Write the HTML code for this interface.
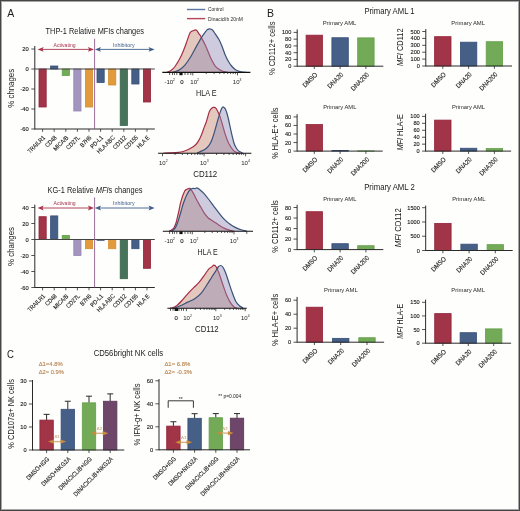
<!DOCTYPE html>
<html><head><meta charset="utf-8"><style>
html,body{margin:0;padding:0;background:#fff;width:520px;height:511px;overflow:hidden;}
svg{display:block;font-family:"Liberation Sans", sans-serif;will-change:transform;}
</style></head><body>
<svg width="520" height="511" viewBox="0 0 520 511" font-family='"Liberation Sans", sans-serif'><rect x="0" y="0" width="520" height="511" fill="#fefefd"/>
<text x="7.20" y="16.80" font-size="10.5" fill="#1a1a1a" text-anchor="start" >A</text>
<text x="267.00" y="16.80" font-size="10.5" fill="#1a1a1a" text-anchor="start" >B</text>
<text x="6.90" y="357.90" font-size="11.0" fill="#1a1a1a" text-anchor="start" textLength="6.9" lengthAdjust="spacingAndGlyphs" >C</text>
<text x="94.80" y="34.40" font-size="8.6" fill="#1a1a1a" text-anchor="middle" textLength="98.4" lengthAdjust="spacingAndGlyphs" >THP-1 Relative MFIs changes</text>
<text x="14.20" y="88.30" font-size="8.4" fill="#1a1a1a" text-anchor="middle" textLength="38.8" lengthAdjust="spacingAndGlyphs" transform="rotate(-90 14.20 88.30)" >% chnages</text>
<rect x="39.00" y="69.00" width="7.20" height="38.00" fill="#a23447" stroke="#93233a" stroke-width="0.8"/>
<rect x="50.60" y="66.00" width="7.20" height="3.00" fill="#465f87" stroke="#364f78" stroke-width="0.8"/>
<rect x="62.20" y="69.00" width="7.20" height="6.50" fill="#72aa57" stroke="#63a048" stroke-width="0.8"/>
<rect x="73.80" y="69.00" width="7.20" height="42.00" fill="#a295bf" stroke="#9487b3" stroke-width="0.8"/>
<rect x="85.40" y="69.00" width="7.20" height="38.00" fill="#e19b3c" stroke="#d48d2e" stroke-width="0.8"/>
<rect x="97.00" y="69.00" width="7.20" height="13.50" fill="#465f87" stroke="#364f78" stroke-width="0.8"/>
<rect x="108.60" y="69.00" width="7.20" height="16.00" fill="#e19b3c" stroke="#d48d2e" stroke-width="0.8"/>
<rect x="120.20" y="69.00" width="7.20" height="56.50" fill="#46735a" stroke="#38654c" stroke-width="0.8"/>
<rect x="131.80" y="69.00" width="7.20" height="15.00" fill="#465f87" stroke="#364f78" stroke-width="0.8"/>
<rect x="143.40" y="69.00" width="7.20" height="33.00" fill="#a23447" stroke="#93233a" stroke-width="0.8"/>
<line x1="34.80" y1="46.00" x2="34.80" y2="129.50" stroke="#2a2a2a" stroke-width="1" />
<line x1="34.80" y1="129.00" x2="154.80" y2="129.00" stroke="#2a2a2a" stroke-width="1" />
<line x1="34.80" y1="69.00" x2="154.80" y2="69.00" stroke="#444" stroke-width="1" />
<line x1="31.30" y1="49.00" x2="34.80" y2="49.00" stroke="#2a2a2a" stroke-width="0.8" />
<text x="28.80" y="51.00" font-size="5.8" fill="#1a1a1a" text-anchor="end" stroke="#1a1a1a" stroke-width="0.12" >20</text>
<line x1="31.30" y1="69.00" x2="34.80" y2="69.00" stroke="#2a2a2a" stroke-width="0.8" />
<text x="28.80" y="71.00" font-size="5.8" fill="#1a1a1a" text-anchor="end" stroke="#1a1a1a" stroke-width="0.12" >0</text>
<line x1="31.30" y1="89.00" x2="34.80" y2="89.00" stroke="#2a2a2a" stroke-width="0.8" />
<text x="28.80" y="91.00" font-size="5.8" fill="#1a1a1a" text-anchor="end" stroke="#1a1a1a" stroke-width="0.12" >-20</text>
<line x1="31.30" y1="109.00" x2="34.80" y2="109.00" stroke="#2a2a2a" stroke-width="0.8" />
<text x="28.80" y="111.00" font-size="5.8" fill="#1a1a1a" text-anchor="end" stroke="#1a1a1a" stroke-width="0.12" >-40</text>
<line x1="31.30" y1="129.00" x2="34.80" y2="129.00" stroke="#2a2a2a" stroke-width="0.8" />
<text x="28.80" y="131.00" font-size="5.8" fill="#1a1a1a" text-anchor="end" stroke="#1a1a1a" stroke-width="0.12" >-60</text>
<line x1="42.60" y1="129.00" x2="42.60" y2="131.80" stroke="#2a2a2a" stroke-width="0.8" />
<text x="45.60" y="138.10" font-size="6.21" fill="#1a1a1a" text-anchor="end" textLength="22.21" lengthAdjust="spacingAndGlyphs" transform="rotate(-45 45.60 138.10)" stroke="#1a1a1a" stroke-width="0.12" >TRAILR1</text>
<line x1="54.20" y1="129.00" x2="54.20" y2="131.80" stroke="#2a2a2a" stroke-width="0.8" />
<text x="57.20" y="138.10" font-size="6.21" fill="#1a1a1a" text-anchor="end" textLength="13.81" lengthAdjust="spacingAndGlyphs" transform="rotate(-45 57.20 138.10)" stroke="#1a1a1a" stroke-width="0.12" >CD48</text>
<line x1="65.80" y1="129.00" x2="65.80" y2="131.80" stroke="#2a2a2a" stroke-width="0.8" />
<text x="68.80" y="138.10" font-size="6.21" fill="#1a1a1a" text-anchor="end" textLength="18.6" lengthAdjust="spacingAndGlyphs" transform="rotate(-45 68.80 138.10)" stroke="#1a1a1a" stroke-width="0.12" >MICA/B</text>
<line x1="77.40" y1="129.00" x2="77.40" y2="131.80" stroke="#2a2a2a" stroke-width="0.8" />
<text x="80.40" y="138.10" font-size="6.21" fill="#1a1a1a" text-anchor="end" textLength="16.81" lengthAdjust="spacingAndGlyphs" transform="rotate(-45 80.40 138.10)" stroke="#1a1a1a" stroke-width="0.12" >CD27L</text>
<line x1="89.00" y1="129.00" x2="89.00" y2="131.80" stroke="#2a2a2a" stroke-width="0.8" />
<text x="92.00" y="138.10" font-size="6.21" fill="#1a1a1a" text-anchor="end" textLength="13.51" lengthAdjust="spacingAndGlyphs" transform="rotate(-45 92.00 138.10)" stroke="#1a1a1a" stroke-width="0.12" >B7H6</text>
<line x1="100.60" y1="129.00" x2="100.60" y2="131.80" stroke="#2a2a2a" stroke-width="0.8" />
<text x="103.60" y="138.10" font-size="6.21" fill="#1a1a1a" text-anchor="end" textLength="15.31" lengthAdjust="spacingAndGlyphs" transform="rotate(-45 103.60 138.10)" stroke="#1a1a1a" stroke-width="0.12" >PD-L1</text>
<line x1="112.20" y1="129.00" x2="112.20" y2="131.80" stroke="#2a2a2a" stroke-width="0.8" />
<text x="115.20" y="138.10" font-size="6.21" fill="#1a1a1a" text-anchor="end" textLength="22.51" lengthAdjust="spacingAndGlyphs" transform="rotate(-45 115.20 138.10)" stroke="#1a1a1a" stroke-width="0.12" >HLA ABC</text>
<line x1="123.80" y1="129.00" x2="123.80" y2="131.80" stroke="#2a2a2a" stroke-width="0.8" />
<text x="126.80" y="138.10" font-size="6.21" fill="#1a1a1a" text-anchor="end" textLength="16.41" lengthAdjust="spacingAndGlyphs" transform="rotate(-45 126.80 138.10)" stroke="#1a1a1a" stroke-width="0.12" >CD112</text>
<line x1="135.40" y1="129.00" x2="135.40" y2="131.80" stroke="#2a2a2a" stroke-width="0.8" />
<text x="138.40" y="138.10" font-size="6.21" fill="#1a1a1a" text-anchor="end" textLength="16.81" lengthAdjust="spacingAndGlyphs" transform="rotate(-45 138.40 138.10)" stroke="#1a1a1a" stroke-width="0.12" >CD155</text>
<line x1="147.00" y1="129.00" x2="147.00" y2="131.80" stroke="#2a2a2a" stroke-width="0.8" />
<text x="150.00" y="138.10" font-size="6.21" fill="#1a1a1a" text-anchor="end" textLength="15.31" lengthAdjust="spacingAndGlyphs" transform="rotate(-45 150.00 138.10)" stroke="#1a1a1a" stroke-width="0.12" >HLA E</text>
<line x1="94.60" y1="38.80" x2="94.60" y2="129.00" stroke="#8d5b8d" stroke-width="0.9" />
<line x1="40.50" y1="49.40" x2="91.50" y2="49.40" stroke="#a9344a" stroke-width="0.9" />
<path d="M37.6,49.4 l6.1,-2.45 l-1.3,2.45 l1.3,2.45z" fill="#a9344a"/>
<path d="M94.0,49.4 l-6.1,-2.45 l1.3,2.45 l-1.3,2.45z" fill="#a9344a"/>
<line x1="97.50" y1="49.40" x2="152.50" y2="49.40" stroke="#3f5e8c" stroke-width="0.9" />
<path d="M94.9,49.4 l6.1,-2.45 l-1.3,2.45 l1.3,2.45z" fill="#3f5e8c"/>
<path d="M154.6,49.4 l-6.1,-2.45 l1.3,2.45 l-1.3,2.45z" fill="#3f5e8c"/>
<text x="64.60" y="46.80" font-size="5.0" fill="#a9344a" text-anchor="middle" textLength="22" lengthAdjust="spacingAndGlyphs" >Activating</text>
<text x="123.80" y="46.80" font-size="5.0" fill="#3f5e8c" text-anchor="middle" textLength="21.5" lengthAdjust="spacingAndGlyphs" >Inhibitory</text>
<text x="95.00" y="192.60" font-size="8.6" fill="#1a1a1a" text-anchor="middle" textLength="95.0" lengthAdjust="spacingAndGlyphs" >KG-1 Relative <tspan font-style="italic">MFI</tspan>s changes</text>
<text x="14.20" y="246.50" font-size="8.4" fill="#1a1a1a" text-anchor="middle" textLength="38.8" lengthAdjust="spacingAndGlyphs" transform="rotate(-90 14.20 246.50)" >% changes</text>
<rect x="39.00" y="216.70" width="7.20" height="22.80" fill="#a23447" stroke="#93233a" stroke-width="0.8"/>
<rect x="50.60" y="215.90" width="7.20" height="23.60" fill="#465f87" stroke="#364f78" stroke-width="0.8"/>
<rect x="62.20" y="235.50" width="7.20" height="4.00" fill="#72aa57" stroke="#63a048" stroke-width="0.8"/>
<rect x="73.80" y="239.50" width="7.20" height="16.00" fill="#a295bf" stroke="#9487b3" stroke-width="0.8"/>
<rect x="85.40" y="239.50" width="7.20" height="9.20" fill="#e19b3c" stroke="#d48d2e" stroke-width="0.8"/>
<rect x="97.00" y="239.50" width="7.20" height="0.80" fill="#465f87" stroke="#364f78" stroke-width="0.8"/>
<rect x="108.60" y="239.50" width="7.20" height="9.20" fill="#e19b3c" stroke="#d48d2e" stroke-width="0.8"/>
<rect x="120.20" y="239.50" width="7.20" height="39.20" fill="#46735a" stroke="#38654c" stroke-width="0.8"/>
<rect x="131.80" y="239.50" width="7.20" height="9.20" fill="#465f87" stroke="#364f78" stroke-width="0.8"/>
<rect x="143.40" y="239.50" width="7.20" height="28.80" fill="#a23447" stroke="#93233a" stroke-width="0.8"/>
<line x1="34.80" y1="204.60" x2="34.80" y2="288.00" stroke="#2a2a2a" stroke-width="1" />
<line x1="34.80" y1="287.50" x2="154.80" y2="287.50" stroke="#2a2a2a" stroke-width="1" />
<line x1="34.80" y1="239.50" x2="154.80" y2="239.50" stroke="#444" stroke-width="1" />
<line x1="31.30" y1="207.50" x2="34.80" y2="207.50" stroke="#2a2a2a" stroke-width="0.8" />
<text x="28.80" y="209.50" font-size="5.8" fill="#1a1a1a" text-anchor="end" stroke="#1a1a1a" stroke-width="0.12" >40</text>
<line x1="31.30" y1="223.50" x2="34.80" y2="223.50" stroke="#2a2a2a" stroke-width="0.8" />
<text x="28.80" y="225.50" font-size="5.8" fill="#1a1a1a" text-anchor="end" stroke="#1a1a1a" stroke-width="0.12" >20</text>
<line x1="31.30" y1="239.50" x2="34.80" y2="239.50" stroke="#2a2a2a" stroke-width="0.8" />
<text x="28.80" y="241.50" font-size="5.8" fill="#1a1a1a" text-anchor="end" stroke="#1a1a1a" stroke-width="0.12" >0</text>
<line x1="31.30" y1="255.50" x2="34.80" y2="255.50" stroke="#2a2a2a" stroke-width="0.8" />
<text x="28.80" y="257.50" font-size="5.8" fill="#1a1a1a" text-anchor="end" stroke="#1a1a1a" stroke-width="0.12" >-20</text>
<line x1="31.30" y1="271.50" x2="34.80" y2="271.50" stroke="#2a2a2a" stroke-width="0.8" />
<text x="28.80" y="273.50" font-size="5.8" fill="#1a1a1a" text-anchor="end" stroke="#1a1a1a" stroke-width="0.12" >-40</text>
<line x1="31.30" y1="287.50" x2="34.80" y2="287.50" stroke="#2a2a2a" stroke-width="0.8" />
<text x="28.80" y="289.50" font-size="5.8" fill="#1a1a1a" text-anchor="end" stroke="#1a1a1a" stroke-width="0.12" >-60</text>
<line x1="42.60" y1="287.50" x2="42.60" y2="290.30" stroke="#2a2a2a" stroke-width="0.8" />
<text x="45.60" y="296.60" font-size="6.21" fill="#1a1a1a" text-anchor="end" textLength="22.21" lengthAdjust="spacingAndGlyphs" transform="rotate(-45 45.60 296.60)" stroke="#1a1a1a" stroke-width="0.12" >TRAILR1</text>
<line x1="54.20" y1="287.50" x2="54.20" y2="290.30" stroke="#2a2a2a" stroke-width="0.8" />
<text x="57.20" y="296.60" font-size="6.21" fill="#1a1a1a" text-anchor="end" textLength="13.81" lengthAdjust="spacingAndGlyphs" transform="rotate(-45 57.20 296.60)" stroke="#1a1a1a" stroke-width="0.12" >CD48</text>
<line x1="65.80" y1="287.50" x2="65.80" y2="290.30" stroke="#2a2a2a" stroke-width="0.8" />
<text x="68.80" y="296.60" font-size="6.21" fill="#1a1a1a" text-anchor="end" textLength="18.6" lengthAdjust="spacingAndGlyphs" transform="rotate(-45 68.80 296.60)" stroke="#1a1a1a" stroke-width="0.12" >MICA/B</text>
<line x1="77.40" y1="287.50" x2="77.40" y2="290.30" stroke="#2a2a2a" stroke-width="0.8" />
<text x="80.40" y="296.60" font-size="6.21" fill="#1a1a1a" text-anchor="end" textLength="16.81" lengthAdjust="spacingAndGlyphs" transform="rotate(-45 80.40 296.60)" stroke="#1a1a1a" stroke-width="0.12" >CD27L</text>
<line x1="89.00" y1="287.50" x2="89.00" y2="290.30" stroke="#2a2a2a" stroke-width="0.8" />
<text x="92.00" y="296.60" font-size="6.21" fill="#1a1a1a" text-anchor="end" textLength="13.51" lengthAdjust="spacingAndGlyphs" transform="rotate(-45 92.00 296.60)" stroke="#1a1a1a" stroke-width="0.12" >B7H6</text>
<line x1="100.60" y1="287.50" x2="100.60" y2="290.30" stroke="#2a2a2a" stroke-width="0.8" />
<text x="103.60" y="296.60" font-size="6.21" fill="#1a1a1a" text-anchor="end" textLength="15.31" lengthAdjust="spacingAndGlyphs" transform="rotate(-45 103.60 296.60)" stroke="#1a1a1a" stroke-width="0.12" >PD-L1</text>
<line x1="112.20" y1="287.50" x2="112.20" y2="290.30" stroke="#2a2a2a" stroke-width="0.8" />
<text x="115.20" y="296.60" font-size="6.21" fill="#1a1a1a" text-anchor="end" textLength="22.51" lengthAdjust="spacingAndGlyphs" transform="rotate(-45 115.20 296.60)" stroke="#1a1a1a" stroke-width="0.12" >HLA ABC</text>
<line x1="123.80" y1="287.50" x2="123.80" y2="290.30" stroke="#2a2a2a" stroke-width="0.8" />
<text x="126.80" y="296.60" font-size="6.21" fill="#1a1a1a" text-anchor="end" textLength="16.41" lengthAdjust="spacingAndGlyphs" transform="rotate(-45 126.80 296.60)" stroke="#1a1a1a" stroke-width="0.12" >CD112</text>
<line x1="135.40" y1="287.50" x2="135.40" y2="290.30" stroke="#2a2a2a" stroke-width="0.8" />
<text x="138.40" y="296.60" font-size="6.21" fill="#1a1a1a" text-anchor="end" textLength="16.81" lengthAdjust="spacingAndGlyphs" transform="rotate(-45 138.40 296.60)" stroke="#1a1a1a" stroke-width="0.12" >CD155</text>
<line x1="147.00" y1="287.50" x2="147.00" y2="290.30" stroke="#2a2a2a" stroke-width="0.8" />
<text x="150.00" y="296.60" font-size="6.21" fill="#1a1a1a" text-anchor="end" textLength="15.31" lengthAdjust="spacingAndGlyphs" transform="rotate(-45 150.00 296.60)" stroke="#1a1a1a" stroke-width="0.12" >HLA E</text>
<line x1="94.60" y1="197.40" x2="94.60" y2="287.50" stroke="#8d5b8d" stroke-width="0.9" />
<line x1="40.50" y1="208.00" x2="91.50" y2="208.00" stroke="#a9344a" stroke-width="0.9" />
<path d="M37.6,208.0 l6.1,-2.45 l-1.3,2.45 l1.3,2.45z" fill="#a9344a"/>
<path d="M94.0,208.0 l-6.1,-2.45 l1.3,2.45 l-1.3,2.45z" fill="#a9344a"/>
<line x1="97.50" y1="208.00" x2="152.50" y2="208.00" stroke="#3f5e8c" stroke-width="0.9" />
<path d="M94.9,208.0 l6.1,-2.45 l-1.3,2.45 l1.3,2.45z" fill="#3f5e8c"/>
<path d="M154.6,208.0 l-6.1,-2.45 l1.3,2.45 l-1.3,2.45z" fill="#3f5e8c"/>
<text x="64.60" y="205.40" font-size="5.0" fill="#a9344a" text-anchor="middle" textLength="22" lengthAdjust="spacingAndGlyphs" >Activating</text>
<text x="123.80" y="205.40" font-size="5.0" fill="#3f5e8c" text-anchor="middle" textLength="21.5" lengthAdjust="spacingAndGlyphs" >Inhibitory</text>
<path d="M166.80,72.40 C167.50,72.08 169.63,71.48 171.00,70.50 C172.37,69.52 173.50,68.53 175.00,66.50 C176.50,64.47 178.52,61.13 180.00,58.30 C181.48,55.47 182.77,52.28 183.90,49.50 C185.03,46.72 185.82,44.30 186.80,41.60 C187.78,38.90 188.97,35.03 189.80,33.30 C190.63,31.57 191.17,31.65 191.80,31.20 C192.43,30.75 193.03,30.82 193.60,30.60 C194.17,30.38 194.62,29.85 195.20,29.90 C195.78,29.95 196.53,30.33 197.10,30.90 C197.67,31.47 198.03,32.48 198.60,33.30 C199.17,34.12 199.93,34.90 200.50,35.80 C201.07,36.70 201.25,37.23 202.00,38.70 C202.75,40.17 203.93,42.32 205.00,44.60 C206.07,46.88 207.35,49.97 208.40,52.40 C209.45,54.83 210.17,56.92 211.30,59.20 C212.43,61.48 213.73,64.30 215.20,66.10 C216.67,67.90 218.63,69.08 220.10,70.00 C221.57,70.92 222.68,71.20 224.00,71.60 C225.32,72.00 227.33,72.27 228.00,72.40 L228.00,72.4 L166.80,72.4 Z" fill="#ca927f" fill-opacity="0.5"/>
<path d="M166.80,72.40 C167.50,72.08 169.63,71.48 171.00,70.50 C172.37,69.52 173.50,68.53 175.00,66.50 C176.50,64.47 178.52,61.13 180.00,58.30 C181.48,55.47 182.77,52.28 183.90,49.50 C185.03,46.72 185.82,44.30 186.80,41.60 C187.78,38.90 188.97,35.03 189.80,33.30 C190.63,31.57 191.17,31.65 191.80,31.20 C192.43,30.75 193.03,30.82 193.60,30.60 C194.17,30.38 194.62,29.85 195.20,29.90 C195.78,29.95 196.53,30.33 197.10,30.90 C197.67,31.47 198.03,32.48 198.60,33.30 C199.17,34.12 199.93,34.90 200.50,35.80 C201.07,36.70 201.25,37.23 202.00,38.70 C202.75,40.17 203.93,42.32 205.00,44.60 C206.07,46.88 207.35,49.97 208.40,52.40 C209.45,54.83 210.17,56.92 211.30,59.20 C212.43,61.48 213.73,64.30 215.20,66.10 C216.67,67.90 218.63,69.08 220.10,70.00 C221.57,70.92 222.68,71.20 224.00,71.60 C225.32,72.00 227.33,72.27 228.00,72.40" fill="none" stroke="#a62c46" stroke-width="1.2"/>
<path d="M171.70,72.40 C172.42,72.22 174.62,71.78 176.00,71.30 C177.38,70.82 178.52,70.53 180.00,69.50 C181.48,68.47 183.27,66.97 184.90,65.10 C186.53,63.23 188.17,60.90 189.80,58.30 C191.43,55.70 193.07,52.43 194.70,49.50 C196.33,46.57 198.30,42.98 199.60,40.70 C200.90,38.42 201.53,37.28 202.50,35.80 C203.47,34.32 204.57,32.83 205.40,31.80 C206.23,30.77 206.83,30.08 207.50,29.60 C208.17,29.12 208.77,28.95 209.40,28.90 C210.03,28.85 210.73,29.07 211.30,29.30 C211.87,29.53 212.15,29.55 212.80,30.30 C213.45,31.05 214.15,32.23 215.20,33.80 C216.25,35.37 217.95,37.58 219.10,39.70 C220.25,41.82 221.12,44.05 222.10,46.50 C223.08,48.95 223.93,51.90 225.00,54.40 C226.07,56.90 227.33,59.48 228.50,61.50 C229.67,63.52 230.75,65.08 232.00,66.50 C233.25,67.92 234.50,69.12 236.00,70.00 C237.50,70.88 239.25,71.40 241.00,71.80 C242.75,72.20 245.58,72.30 246.50,72.40 L246.50,72.4 L171.70,72.4 Z" fill="#8a86b0" fill-opacity="0.42"/>
<path d="M171.70,72.40 C172.42,72.22 174.62,71.78 176.00,71.30 C177.38,70.82 178.52,70.53 180.00,69.50 C181.48,68.47 183.27,66.97 184.90,65.10 C186.53,63.23 188.17,60.90 189.80,58.30 C191.43,55.70 193.07,52.43 194.70,49.50 C196.33,46.57 198.30,42.98 199.60,40.70 C200.90,38.42 201.53,37.28 202.50,35.80 C203.47,34.32 204.57,32.83 205.40,31.80 C206.23,30.77 206.83,30.08 207.50,29.60 C208.17,29.12 208.77,28.95 209.40,28.90 C210.03,28.85 210.73,29.07 211.30,29.30 C211.87,29.53 212.15,29.55 212.80,30.30 C213.45,31.05 214.15,32.23 215.20,33.80 C216.25,35.37 217.95,37.58 219.10,39.70 C220.25,41.82 221.12,44.05 222.10,46.50 C223.08,48.95 223.93,51.90 225.00,54.40 C226.07,56.90 227.33,59.48 228.50,61.50 C229.67,63.52 230.75,65.08 232.00,66.50 C233.25,67.92 234.50,69.12 236.00,70.00 C237.50,70.88 239.25,71.40 241.00,71.80 C242.75,72.20 245.58,72.30 246.50,72.40" fill="none" stroke="#3a5179" stroke-width="1.2"/>
<line x1="162.30" y1="72.40" x2="250.40" y2="72.40" stroke="#111" stroke-width="1.1" />
<line x1="192.80" y1="72.40" x2="192.80" y2="75.40" stroke="#222" stroke-width="0.75" />
<line x1="237.50" y1="72.40" x2="237.50" y2="75.40" stroke="#222" stroke-width="0.75" />
<line x1="206.26" y1="72.40" x2="206.26" y2="74.10" stroke="#222" stroke-width="0.75" />
<line x1="214.13" y1="72.40" x2="214.13" y2="74.10" stroke="#222" stroke-width="0.75" />
<line x1="219.71" y1="72.40" x2="219.71" y2="74.10" stroke="#222" stroke-width="0.75" />
<line x1="224.04" y1="72.40" x2="224.04" y2="74.10" stroke="#222" stroke-width="0.75" />
<line x1="227.58" y1="72.40" x2="227.58" y2="74.10" stroke="#222" stroke-width="0.75" />
<line x1="230.58" y1="72.40" x2="230.58" y2="74.10" stroke="#222" stroke-width="0.75" />
<line x1="233.17" y1="72.40" x2="233.17" y2="74.10" stroke="#222" stroke-width="0.75" />
<line x1="235.45" y1="72.40" x2="235.45" y2="74.10" stroke="#222" stroke-width="0.75" />
<line x1="169.60" y1="72.40" x2="169.60" y2="75.00" stroke="#222" stroke-width="0.75" />
<line x1="172.50" y1="72.40" x2="172.50" y2="75.00" stroke="#222" stroke-width="0.75" />
<line x1="174.40" y1="72.40" x2="174.40" y2="75.00" stroke="#222" stroke-width="0.75" />
<line x1="176.80" y1="72.40" x2="176.80" y2="75.00" stroke="#222" stroke-width="0.75" />
<line x1="185.00" y1="72.40" x2="185.00" y2="75.00" stroke="#222" stroke-width="0.75" />
<line x1="187.90" y1="72.40" x2="187.90" y2="75.00" stroke="#222" stroke-width="0.75" />
<line x1="190.80" y1="72.40" x2="190.80" y2="75.00" stroke="#222" stroke-width="0.75" />
<rect x="179.40" y="72.40" width="3.2" height="2.8" fill="#111"/>
<text x="164.40" y="83.70" font-size="6.0" fill="#1a1a1a">-10<tspan font-size="3.4" dy="-2.8">2</tspan></text>
<text x="180.20" y="83.70" font-size="6.0" fill="#1a1a1a" text-anchor="start" stroke="#1a1a1a" stroke-width="0.12" >0</text>
<text x="190.30" y="83.70" font-size="6.0" fill="#1a1a1a">10<tspan font-size="3.4" dy="-2.8">2</tspan></text>
<text x="232.80" y="83.70" font-size="6.0" fill="#1a1a1a">10<tspan font-size="3.4" dy="-2.8">3</tspan></text>
<text x="206.25" y="96.00" font-size="8.4" fill="#1a1a1a" text-anchor="middle" textLength="20.5" lengthAdjust="spacingAndGlyphs" >HLA E</text>
<line x1="187.00" y1="9.50" x2="205.20" y2="9.50" stroke="#5a76a4" stroke-width="1.4" />
<line x1="187.00" y1="18.60" x2="205.20" y2="18.60" stroke="#b8445a" stroke-width="1.4" />
<text x="208.00" y="11.30" font-size="5.3" fill="#2a2a2a" text-anchor="start" textLength="15.5" lengthAdjust="spacingAndGlyphs" >Control</text>
<text x="208.00" y="20.50" font-size="5.3" fill="#2a2a2a" text-anchor="start" textLength="35" lengthAdjust="spacingAndGlyphs" >Dinaciclib 20nM</text>
<path d="M163.50,153.00 C164.58,152.97 167.50,152.92 170.00,152.80 C172.50,152.68 176.33,152.52 178.50,152.30 C180.67,152.08 181.47,151.92 183.00,151.50 C184.53,151.08 186.28,150.42 187.70,149.80 C189.12,149.18 190.27,148.57 191.50,147.80 C192.73,147.03 194.08,146.12 195.10,145.20 C196.12,144.28 196.83,143.37 197.60,142.30 C198.37,141.23 199.03,140.10 199.70,138.80 C200.37,137.50 200.98,136.05 201.60,134.50 C202.22,132.95 202.87,130.95 203.40,129.50 C203.93,128.05 204.33,127.02 204.80,125.80 C205.27,124.58 205.73,123.58 206.20,122.20 C206.67,120.82 207.15,119.05 207.60,117.50 C208.05,115.95 208.47,114.15 208.90,112.90 C209.33,111.65 209.73,110.77 210.20,110.00 C210.67,109.23 211.20,108.73 211.70,108.30 C212.20,107.87 212.73,107.55 213.20,107.40 C213.67,107.25 214.03,107.25 214.50,107.40 C214.97,107.55 215.55,107.83 216.00,108.30 C216.45,108.77 216.77,109.38 217.20,110.20 C217.63,111.02 218.13,112.13 218.60,113.20 C219.07,114.27 219.30,114.50 220.00,116.60 C220.70,118.70 221.88,122.72 222.80,125.80 C223.72,128.88 224.43,132.02 225.50,135.10 C226.57,138.18 227.82,141.68 229.20,144.30 C230.58,146.92 232.42,149.42 233.80,150.80 C235.18,152.18 236.47,152.20 237.50,152.60 C238.53,153.00 239.58,153.10 240.00,153.20 L240.00,153.3 L163.50,153.3 Z" fill="#ca927f" fill-opacity="0.5"/>
<path d="M163.50,153.00 C164.58,152.97 167.50,152.92 170.00,152.80 C172.50,152.68 176.33,152.52 178.50,152.30 C180.67,152.08 181.47,151.92 183.00,151.50 C184.53,151.08 186.28,150.42 187.70,149.80 C189.12,149.18 190.27,148.57 191.50,147.80 C192.73,147.03 194.08,146.12 195.10,145.20 C196.12,144.28 196.83,143.37 197.60,142.30 C198.37,141.23 199.03,140.10 199.70,138.80 C200.37,137.50 200.98,136.05 201.60,134.50 C202.22,132.95 202.87,130.95 203.40,129.50 C203.93,128.05 204.33,127.02 204.80,125.80 C205.27,124.58 205.73,123.58 206.20,122.20 C206.67,120.82 207.15,119.05 207.60,117.50 C208.05,115.95 208.47,114.15 208.90,112.90 C209.33,111.65 209.73,110.77 210.20,110.00 C210.67,109.23 211.20,108.73 211.70,108.30 C212.20,107.87 212.73,107.55 213.20,107.40 C213.67,107.25 214.03,107.25 214.50,107.40 C214.97,107.55 215.55,107.83 216.00,108.30 C216.45,108.77 216.77,109.38 217.20,110.20 C217.63,111.02 218.13,112.13 218.60,113.20 C219.07,114.27 219.30,114.50 220.00,116.60 C220.70,118.70 221.88,122.72 222.80,125.80 C223.72,128.88 224.43,132.02 225.50,135.10 C226.57,138.18 227.82,141.68 229.20,144.30 C230.58,146.92 232.42,149.42 233.80,150.80 C235.18,152.18 236.47,152.20 237.50,152.60 C238.53,153.00 239.58,153.10 240.00,153.20" fill="none" stroke="#a62c46" stroke-width="1.2"/>
<path d="M196.90,153.20 C197.50,152.92 199.27,152.07 200.50,151.50 C201.73,150.93 203.18,150.47 204.30,149.80 C205.42,149.13 206.28,148.42 207.20,147.50 C208.12,146.58 209.05,145.50 209.80,144.30 C210.55,143.10 211.08,141.83 211.70,140.30 C212.32,138.77 212.88,137.05 213.50,135.10 C214.12,133.15 214.78,130.75 215.40,128.60 C216.02,126.45 216.67,124.08 217.20,122.20 C217.73,120.32 218.13,118.85 218.60,117.30 C219.07,115.75 219.55,114.25 220.00,112.90 C220.45,111.55 220.83,110.18 221.30,109.20 C221.77,108.22 222.32,107.27 222.80,107.00 C223.28,106.73 223.75,107.23 224.20,107.60 C224.65,107.97 225.03,108.22 225.50,109.20 C225.97,110.18 226.53,111.95 227.00,113.50 C227.47,115.05 227.85,116.62 228.30,118.50 C228.75,120.38 229.23,122.65 229.70,124.80 C230.17,126.95 230.42,128.45 231.10,131.40 C231.78,134.35 233.05,139.93 233.80,142.50 C234.55,145.07 234.98,145.58 235.60,146.80 C236.22,148.02 236.77,148.97 237.50,149.80 C238.23,150.63 239.08,151.23 240.00,151.80 C240.92,152.37 242.50,152.97 243.00,153.20 L243.00,153.3 L196.90,153.3 Z" fill="#8a86b0" fill-opacity="0.42"/>
<path d="M196.90,153.20 C197.50,152.92 199.27,152.07 200.50,151.50 C201.73,150.93 203.18,150.47 204.30,149.80 C205.42,149.13 206.28,148.42 207.20,147.50 C208.12,146.58 209.05,145.50 209.80,144.30 C210.55,143.10 211.08,141.83 211.70,140.30 C212.32,138.77 212.88,137.05 213.50,135.10 C214.12,133.15 214.78,130.75 215.40,128.60 C216.02,126.45 216.67,124.08 217.20,122.20 C217.73,120.32 218.13,118.85 218.60,117.30 C219.07,115.75 219.55,114.25 220.00,112.90 C220.45,111.55 220.83,110.18 221.30,109.20 C221.77,108.22 222.32,107.27 222.80,107.00 C223.28,106.73 223.75,107.23 224.20,107.60 C224.65,107.97 225.03,108.22 225.50,109.20 C225.97,110.18 226.53,111.95 227.00,113.50 C227.47,115.05 227.85,116.62 228.30,118.50 C228.75,120.38 229.23,122.65 229.70,124.80 C230.17,126.95 230.42,128.45 231.10,131.40 C231.78,134.35 233.05,139.93 233.80,142.50 C234.55,145.07 234.98,145.58 235.60,146.80 C236.22,148.02 236.77,148.97 237.50,149.80 C238.23,150.63 239.08,151.23 240.00,151.80 C240.92,152.37 242.50,152.97 243.00,153.20" fill="none" stroke="#3a5179" stroke-width="1.2"/>
<line x1="158.10" y1="153.30" x2="251.40" y2="153.30" stroke="#111" stroke-width="1.1" />
<line x1="162.50" y1="153.30" x2="162.50" y2="156.30" stroke="#222" stroke-width="0.75" />
<line x1="204.10" y1="153.30" x2="204.10" y2="156.30" stroke="#222" stroke-width="0.75" />
<line x1="245.60" y1="153.30" x2="245.60" y2="156.30" stroke="#222" stroke-width="0.75" />
<line x1="175.02" y1="153.30" x2="175.02" y2="155.00" stroke="#222" stroke-width="0.75" />
<line x1="182.35" y1="153.30" x2="182.35" y2="155.00" stroke="#222" stroke-width="0.75" />
<line x1="187.55" y1="153.30" x2="187.55" y2="155.00" stroke="#222" stroke-width="0.75" />
<line x1="191.58" y1="153.30" x2="191.58" y2="155.00" stroke="#222" stroke-width="0.75" />
<line x1="194.87" y1="153.30" x2="194.87" y2="155.00" stroke="#222" stroke-width="0.75" />
<line x1="197.66" y1="153.30" x2="197.66" y2="155.00" stroke="#222" stroke-width="0.75" />
<line x1="200.07" y1="153.30" x2="200.07" y2="155.00" stroke="#222" stroke-width="0.75" />
<line x1="202.20" y1="153.30" x2="202.20" y2="155.00" stroke="#222" stroke-width="0.75" />
<line x1="216.59" y1="153.30" x2="216.59" y2="155.00" stroke="#222" stroke-width="0.75" />
<line x1="223.90" y1="153.30" x2="223.90" y2="155.00" stroke="#222" stroke-width="0.75" />
<line x1="229.09" y1="153.30" x2="229.09" y2="155.00" stroke="#222" stroke-width="0.75" />
<line x1="233.11" y1="153.30" x2="233.11" y2="155.00" stroke="#222" stroke-width="0.75" />
<line x1="236.39" y1="153.30" x2="236.39" y2="155.00" stroke="#222" stroke-width="0.75" />
<line x1="239.17" y1="153.30" x2="239.17" y2="155.00" stroke="#222" stroke-width="0.75" />
<line x1="241.58" y1="153.30" x2="241.58" y2="155.00" stroke="#222" stroke-width="0.75" />
<line x1="243.70" y1="153.30" x2="243.70" y2="155.00" stroke="#222" stroke-width="0.75" />
<text x="159.00" y="164.60" font-size="6.0" fill="#1a1a1a">10<tspan font-size="3.4" dy="-2.8">2</tspan></text>
<text x="200.00" y="164.60" font-size="6.0" fill="#1a1a1a">10<tspan font-size="3.4" dy="-2.8">3</tspan></text>
<text x="241.20" y="164.60" font-size="6.0" fill="#1a1a1a">10<tspan font-size="3.4" dy="-2.8">4</tspan></text>
<text x="205.20" y="177.00" font-size="8.4" fill="#1a1a1a" text-anchor="middle" textLength="24.0" lengthAdjust="spacingAndGlyphs" >CD112</text>
<path d="M169.20,231.10 C169.58,230.92 170.73,230.52 171.50,230.00 C172.27,229.48 173.08,229.08 173.80,228.00 C174.52,226.92 175.18,225.35 175.80,223.50 C176.42,221.65 176.97,219.07 177.50,216.90 C178.03,214.73 178.53,212.65 179.00,210.50 C179.47,208.35 179.85,205.92 180.30,204.00 C180.75,202.08 181.23,200.53 181.70,199.00 C182.17,197.47 182.57,196.18 183.10,194.80 C183.63,193.42 184.33,191.60 184.90,190.70 C185.47,189.80 186.03,189.70 186.50,189.40 C186.97,189.10 187.13,189.08 187.70,188.90 C188.27,188.72 189.28,188.08 189.90,188.30 C190.52,188.52 190.92,189.52 191.40,190.20 C191.88,190.88 192.33,191.63 192.80,192.40 C193.27,193.17 193.52,193.48 194.20,194.80 C194.88,196.12 195.83,198.30 196.90,200.30 C197.97,202.30 199.37,204.65 200.60,206.80 C201.83,208.95 203.07,211.37 204.30,213.20 C205.53,215.03 206.47,216.42 208.00,217.80 C209.53,219.18 211.65,220.27 213.50,221.50 C215.35,222.73 217.25,224.05 219.10,225.20 C220.95,226.35 222.77,227.53 224.60,228.40 C226.43,229.27 228.53,229.93 230.10,230.40 C231.67,230.87 233.35,231.07 234.00,231.20 L234.00,231.3 L169.20,231.3 Z" fill="#ca927f" fill-opacity="0.5"/>
<path d="M169.20,231.10 C169.58,230.92 170.73,230.52 171.50,230.00 C172.27,229.48 173.08,229.08 173.80,228.00 C174.52,226.92 175.18,225.35 175.80,223.50 C176.42,221.65 176.97,219.07 177.50,216.90 C178.03,214.73 178.53,212.65 179.00,210.50 C179.47,208.35 179.85,205.92 180.30,204.00 C180.75,202.08 181.23,200.53 181.70,199.00 C182.17,197.47 182.57,196.18 183.10,194.80 C183.63,193.42 184.33,191.60 184.90,190.70 C185.47,189.80 186.03,189.70 186.50,189.40 C186.97,189.10 187.13,189.08 187.70,188.90 C188.27,188.72 189.28,188.08 189.90,188.30 C190.52,188.52 190.92,189.52 191.40,190.20 C191.88,190.88 192.33,191.63 192.80,192.40 C193.27,193.17 193.52,193.48 194.20,194.80 C194.88,196.12 195.83,198.30 196.90,200.30 C197.97,202.30 199.37,204.65 200.60,206.80 C201.83,208.95 203.07,211.37 204.30,213.20 C205.53,215.03 206.47,216.42 208.00,217.80 C209.53,219.18 211.65,220.27 213.50,221.50 C215.35,222.73 217.25,224.05 219.10,225.20 C220.95,226.35 222.77,227.53 224.60,228.40 C226.43,229.27 228.53,229.93 230.10,230.40 C231.67,230.87 233.35,231.07 234.00,231.20" fill="none" stroke="#a62c46" stroke-width="1.2"/>
<path d="M171.10,231.20 C171.50,230.97 172.73,230.48 173.50,229.80 C174.27,229.12 175.02,228.32 175.70,227.10 C176.38,225.88 176.98,224.20 177.60,222.50 C178.22,220.80 178.78,218.90 179.40,216.90 C180.02,214.90 180.68,212.65 181.30,210.50 C181.92,208.35 182.48,205.92 183.10,204.00 C183.72,202.08 184.38,200.53 185.00,199.00 C185.62,197.47 186.20,196.03 186.80,194.80 C187.40,193.57 187.98,192.53 188.60,191.60 C189.22,190.67 189.73,189.75 190.50,189.20 C191.27,188.65 192.45,188.40 193.20,188.30 C193.95,188.20 194.38,188.68 195.00,188.60 C195.62,188.52 196.35,187.82 196.90,187.80 C197.45,187.78 197.83,188.20 198.30,188.50 C198.77,188.80 198.85,188.87 199.70,189.60 C200.55,190.33 202.02,191.42 203.40,192.90 C204.78,194.38 206.32,196.35 208.00,198.50 C209.68,200.65 211.65,203.35 213.50,205.80 C215.35,208.25 217.25,210.88 219.10,213.20 C220.95,215.52 222.77,217.85 224.60,219.70 C226.43,221.55 228.25,222.98 230.10,224.30 C231.95,225.62 233.85,226.68 235.70,227.60 C237.55,228.52 239.35,229.23 241.20,229.80 C243.05,230.37 245.87,230.80 246.80,231.00 L246.80,231.3 L171.10,231.3 Z" fill="#8a86b0" fill-opacity="0.42"/>
<path d="M171.10,231.20 C171.50,230.97 172.73,230.48 173.50,229.80 C174.27,229.12 175.02,228.32 175.70,227.10 C176.38,225.88 176.98,224.20 177.60,222.50 C178.22,220.80 178.78,218.90 179.40,216.90 C180.02,214.90 180.68,212.65 181.30,210.50 C181.92,208.35 182.48,205.92 183.10,204.00 C183.72,202.08 184.38,200.53 185.00,199.00 C185.62,197.47 186.20,196.03 186.80,194.80 C187.40,193.57 187.98,192.53 188.60,191.60 C189.22,190.67 189.73,189.75 190.50,189.20 C191.27,188.65 192.45,188.40 193.20,188.30 C193.95,188.20 194.38,188.68 195.00,188.60 C195.62,188.52 196.35,187.82 196.90,187.80 C197.45,187.78 197.83,188.20 198.30,188.50 C198.77,188.80 198.85,188.87 199.70,189.60 C200.55,190.33 202.02,191.42 203.40,192.90 C204.78,194.38 206.32,196.35 208.00,198.50 C209.68,200.65 211.65,203.35 213.50,205.80 C215.35,208.25 217.25,210.88 219.10,213.20 C220.95,215.52 222.77,217.85 224.60,219.70 C226.43,221.55 228.25,222.98 230.10,224.30 C231.95,225.62 233.85,226.68 235.70,227.60 C237.55,228.52 239.35,229.23 241.20,229.80 C243.05,230.37 245.87,230.80 246.80,231.00" fill="none" stroke="#3a5179" stroke-width="1.2"/>
<line x1="162.80" y1="231.30" x2="253.00" y2="231.30" stroke="#111" stroke-width="1.1" />
<line x1="192.30" y1="231.30" x2="192.30" y2="234.30" stroke="#222" stroke-width="0.75" />
<line x1="234.00" y1="231.30" x2="234.00" y2="234.30" stroke="#222" stroke-width="0.75" />
<line x1="204.85" y1="231.30" x2="204.85" y2="233.00" stroke="#222" stroke-width="0.75" />
<line x1="212.20" y1="231.30" x2="212.20" y2="233.00" stroke="#222" stroke-width="0.75" />
<line x1="217.41" y1="231.30" x2="217.41" y2="233.00" stroke="#222" stroke-width="0.75" />
<line x1="221.45" y1="231.30" x2="221.45" y2="233.00" stroke="#222" stroke-width="0.75" />
<line x1="224.75" y1="231.30" x2="224.75" y2="233.00" stroke="#222" stroke-width="0.75" />
<line x1="227.54" y1="231.30" x2="227.54" y2="233.00" stroke="#222" stroke-width="0.75" />
<line x1="229.96" y1="231.30" x2="229.96" y2="233.00" stroke="#222" stroke-width="0.75" />
<line x1="232.09" y1="231.30" x2="232.09" y2="233.00" stroke="#222" stroke-width="0.75" />
<line x1="169.60" y1="231.30" x2="169.60" y2="233.90" stroke="#222" stroke-width="0.75" />
<line x1="172.50" y1="231.30" x2="172.50" y2="233.90" stroke="#222" stroke-width="0.75" />
<line x1="174.40" y1="231.30" x2="174.40" y2="233.90" stroke="#222" stroke-width="0.75" />
<line x1="176.80" y1="231.30" x2="176.80" y2="233.90" stroke="#222" stroke-width="0.75" />
<line x1="185.00" y1="231.30" x2="185.00" y2="233.90" stroke="#222" stroke-width="0.75" />
<line x1="187.90" y1="231.30" x2="187.90" y2="233.90" stroke="#222" stroke-width="0.75" />
<line x1="190.30" y1="231.30" x2="190.30" y2="233.90" stroke="#222" stroke-width="0.75" />
<line x1="246.80" y1="231.30" x2="246.80" y2="233.90" stroke="#222" stroke-width="0.75" />
<rect x="179.40" y="231.30" width="3.2" height="2.8" fill="#111"/>
<text x="164.40" y="242.60" font-size="6.0" fill="#1a1a1a">-10<tspan font-size="3.4" dy="-2.8">2</tspan></text>
<text x="180.20" y="242.60" font-size="6.0" fill="#1a1a1a" text-anchor="start" stroke="#1a1a1a" stroke-width="0.12" >0</text>
<text x="189.80" y="242.60" font-size="6.0" fill="#1a1a1a">10<tspan font-size="3.4" dy="-2.8">2</tspan></text>
<text x="229.80" y="242.60" font-size="6.0" fill="#1a1a1a">10<tspan font-size="3.4" dy="-2.8">3</tspan></text>
<text x="207.65" y="255.00" font-size="8.4" fill="#1a1a1a" text-anchor="middle" textLength="20.099999999999994" lengthAdjust="spacingAndGlyphs" >HLA E</text>
<path d="M170.00,308.20 C170.42,308.13 171.40,308.20 172.50,307.80 C173.60,307.40 174.98,307.07 176.60,305.80 C178.22,304.53 180.35,302.20 182.20,300.20 C184.05,298.20 185.87,295.80 187.70,293.80 C189.53,291.80 191.35,290.05 193.20,288.20 C195.05,286.35 196.95,284.85 198.80,282.70 C200.65,280.55 202.62,277.62 204.30,275.30 C205.98,272.98 207.67,270.18 208.90,268.80 C210.13,267.42 210.87,267.60 211.70,267.00 C212.53,266.40 213.13,265.20 213.90,265.20 C214.67,265.20 215.43,265.62 216.30,267.00 C217.17,268.38 218.02,270.58 219.10,273.50 C220.18,276.42 221.57,280.97 222.80,284.50 C224.03,288.03 225.28,291.77 226.50,294.70 C227.72,297.63 228.88,300.10 230.10,302.10 C231.32,304.10 232.57,305.68 233.80,306.70 C235.03,307.72 236.88,307.95 237.50,308.20 L237.50,308.2 L170.00,308.2 Z" fill="#ca927f" fill-opacity="0.5"/>
<path d="M170.00,308.20 C170.42,308.13 171.40,308.20 172.50,307.80 C173.60,307.40 174.98,307.07 176.60,305.80 C178.22,304.53 180.35,302.20 182.20,300.20 C184.05,298.20 185.87,295.80 187.70,293.80 C189.53,291.80 191.35,290.05 193.20,288.20 C195.05,286.35 196.95,284.85 198.80,282.70 C200.65,280.55 202.62,277.62 204.30,275.30 C205.98,272.98 207.67,270.18 208.90,268.80 C210.13,267.42 210.87,267.60 211.70,267.00 C212.53,266.40 213.13,265.20 213.90,265.20 C214.67,265.20 215.43,265.62 216.30,267.00 C217.17,268.38 218.02,270.58 219.10,273.50 C220.18,276.42 221.57,280.97 222.80,284.50 C224.03,288.03 225.28,291.77 226.50,294.70 C227.72,297.63 228.88,300.10 230.10,302.10 C231.32,304.10 232.57,305.68 233.80,306.70 C235.03,307.72 236.88,307.95 237.50,308.20" fill="none" stroke="#a62c46" stroke-width="1.2"/>
<path d="M173.00,308.20 C173.30,308.17 173.58,308.40 174.80,308.00 C176.02,307.60 178.15,306.78 180.30,305.80 C182.45,304.82 185.23,303.33 187.70,302.10 C190.17,300.87 192.80,299.95 195.10,298.40 C197.40,296.85 199.50,295.12 201.50,292.80 C203.50,290.48 205.40,287.10 207.10,284.50 C208.80,281.90 210.32,279.35 211.70,277.20 C213.08,275.05 214.32,273.30 215.40,271.60 C216.48,269.90 217.35,268.02 218.20,267.00 C219.05,265.98 219.73,265.50 220.50,265.50 C221.27,265.50 221.97,265.83 222.80,267.00 C223.63,268.17 224.58,270.20 225.50,272.50 C226.42,274.80 227.22,277.57 228.30,280.80 C229.38,284.03 230.77,288.50 232.00,291.90 C233.23,295.30 234.47,298.88 235.70,301.20 C236.93,303.52 238.17,304.67 239.40,305.80 C240.63,306.93 242.48,307.63 243.10,308.00 L243.10,308.2 L173.00,308.2 Z" fill="#8a86b0" fill-opacity="0.42"/>
<path d="M173.00,308.20 C173.30,308.17 173.58,308.40 174.80,308.00 C176.02,307.60 178.15,306.78 180.30,305.80 C182.45,304.82 185.23,303.33 187.70,302.10 C190.17,300.87 192.80,299.95 195.10,298.40 C197.40,296.85 199.50,295.12 201.50,292.80 C203.50,290.48 205.40,287.10 207.10,284.50 C208.80,281.90 210.32,279.35 211.70,277.20 C213.08,275.05 214.32,273.30 215.40,271.60 C216.48,269.90 217.35,268.02 218.20,267.00 C219.05,265.98 219.73,265.50 220.50,265.50 C221.27,265.50 221.97,265.83 222.80,267.00 C223.63,268.17 224.58,270.20 225.50,272.50 C226.42,274.80 227.22,277.57 228.30,280.80 C229.38,284.03 230.77,288.50 232.00,291.90 C233.23,295.30 234.47,298.88 235.70,301.20 C236.93,303.52 238.17,304.67 239.40,305.80 C240.63,306.93 242.48,307.63 243.10,308.00" fill="none" stroke="#3a5179" stroke-width="1.2"/>
<line x1="167.40" y1="308.20" x2="246.80" y2="308.20" stroke="#111" stroke-width="1.1" />
<line x1="186.40" y1="308.20" x2="186.40" y2="311.20" stroke="#222" stroke-width="0.75" />
<line x1="215.80" y1="308.20" x2="215.80" y2="311.20" stroke="#222" stroke-width="0.75" />
<line x1="245.20" y1="308.20" x2="245.20" y2="311.20" stroke="#222" stroke-width="0.75" />
<line x1="195.25" y1="308.20" x2="195.25" y2="309.90" stroke="#222" stroke-width="0.75" />
<line x1="200.43" y1="308.20" x2="200.43" y2="309.90" stroke="#222" stroke-width="0.75" />
<line x1="204.10" y1="308.20" x2="204.10" y2="309.90" stroke="#222" stroke-width="0.75" />
<line x1="206.95" y1="308.20" x2="206.95" y2="309.90" stroke="#222" stroke-width="0.75" />
<line x1="209.28" y1="308.20" x2="209.28" y2="309.90" stroke="#222" stroke-width="0.75" />
<line x1="211.25" y1="308.20" x2="211.25" y2="309.90" stroke="#222" stroke-width="0.75" />
<line x1="212.95" y1="308.20" x2="212.95" y2="309.90" stroke="#222" stroke-width="0.75" />
<line x1="214.45" y1="308.20" x2="214.45" y2="309.90" stroke="#222" stroke-width="0.75" />
<line x1="224.65" y1="308.20" x2="224.65" y2="309.90" stroke="#222" stroke-width="0.75" />
<line x1="229.83" y1="308.20" x2="229.83" y2="309.90" stroke="#222" stroke-width="0.75" />
<line x1="233.50" y1="308.20" x2="233.50" y2="309.90" stroke="#222" stroke-width="0.75" />
<line x1="236.35" y1="308.20" x2="236.35" y2="309.90" stroke="#222" stroke-width="0.75" />
<line x1="238.68" y1="308.20" x2="238.68" y2="309.90" stroke="#222" stroke-width="0.75" />
<line x1="240.65" y1="308.20" x2="240.65" y2="309.90" stroke="#222" stroke-width="0.75" />
<line x1="242.35" y1="308.20" x2="242.35" y2="309.90" stroke="#222" stroke-width="0.75" />
<line x1="243.85" y1="308.20" x2="243.85" y2="309.90" stroke="#222" stroke-width="0.75" />
<line x1="170.50" y1="308.20" x2="170.50" y2="310.80" stroke="#222" stroke-width="0.75" />
<line x1="173.00" y1="308.20" x2="173.00" y2="310.80" stroke="#222" stroke-width="0.75" />
<line x1="175.00" y1="308.20" x2="175.00" y2="310.80" stroke="#222" stroke-width="0.75" />
<line x1="179.00" y1="308.20" x2="179.00" y2="310.80" stroke="#222" stroke-width="0.75" />
<line x1="181.50" y1="308.20" x2="181.50" y2="310.80" stroke="#222" stroke-width="0.75" />
<line x1="183.50" y1="308.20" x2="183.50" y2="310.80" stroke="#222" stroke-width="0.75" />
<rect x="174.90" y="308.20" width="3.2" height="2.8" fill="#111"/>
<text x="174.50" y="319.50" font-size="6.0" fill="#1a1a1a" text-anchor="start" stroke="#1a1a1a" stroke-width="0.12" >0</text>
<text x="183.20" y="319.50" font-size="6.0" fill="#1a1a1a">10<tspan font-size="3.4" dy="-2.8">2</tspan></text>
<text x="213.00" y="319.50" font-size="6.0" fill="#1a1a1a">10<tspan font-size="3.4" dy="-2.8">3</tspan></text>
<text x="241.00" y="319.50" font-size="6.0" fill="#1a1a1a">10<tspan font-size="3.4" dy="-2.8">4</tspan></text>
<text x="206.85" y="331.60" font-size="8.4" fill="#1a1a1a" text-anchor="middle" textLength="23.69999999999999" lengthAdjust="spacingAndGlyphs" >CD112</text>
<text x="389.50" y="14.40" font-size="8.6" fill="#1a1a1a" text-anchor="middle" textLength="50.2" lengthAdjust="spacingAndGlyphs" >Primary AML 1</text>
<text x="389.50" y="189.60" font-size="8.6" fill="#1a1a1a" text-anchor="middle" textLength="50.6" lengthAdjust="spacingAndGlyphs" >Primary AML 2</text>
<text x="339.55" y="24.80" font-size="5.6" fill="#2a2a2a" text-anchor="middle" textLength="33.69999999999999" lengthAdjust="spacingAndGlyphs" >Primary AML</text>
<text x="275.50" y="48.30" font-size="8.6" fill="#1a1a1a" text-anchor="middle" textLength="53.5" lengthAdjust="spacingAndGlyphs" transform="rotate(-90 275.50 48.30)" >% CD112+ cells</text>
<rect x="306.10" y="35.17" width="16.40" height="31.03" fill="#a23447" stroke="#93233a" stroke-width="0.8"/>
<rect x="331.90" y="37.74" width="16.40" height="28.46" fill="#465f87" stroke="#364f78" stroke-width="0.8"/>
<rect x="357.70" y="37.88" width="16.40" height="28.32" fill="#72aa57" stroke="#63a048" stroke-width="0.8"/>
<line x1="297.20" y1="29.40" x2="297.20" y2="66.70" stroke="#2a2a2a" stroke-width="1" />
<line x1="297.20" y1="66.20" x2="383.30" y2="66.20" stroke="#2a2a2a" stroke-width="1" />
<line x1="293.60" y1="32.40" x2="297.20" y2="32.40" stroke="#2a2a2a" stroke-width="0.8" />
<text x="291.30" y="34.40" font-size="5.6" fill="#1a1a1a" text-anchor="end" stroke="#1a1a1a" stroke-width="0.12" >100</text>
<line x1="293.60" y1="39.16" x2="297.20" y2="39.16" stroke="#2a2a2a" stroke-width="0.8" />
<text x="291.30" y="41.16" font-size="5.6" fill="#1a1a1a" text-anchor="end" stroke="#1a1a1a" stroke-width="0.12" >80</text>
<line x1="293.60" y1="45.92" x2="297.20" y2="45.92" stroke="#2a2a2a" stroke-width="0.8" />
<text x="291.30" y="47.92" font-size="5.6" fill="#1a1a1a" text-anchor="end" stroke="#1a1a1a" stroke-width="0.12" >60</text>
<line x1="293.60" y1="52.68" x2="297.20" y2="52.68" stroke="#2a2a2a" stroke-width="0.8" />
<text x="291.30" y="54.68" font-size="5.6" fill="#1a1a1a" text-anchor="end" stroke="#1a1a1a" stroke-width="0.12" >40</text>
<line x1="293.60" y1="59.44" x2="297.20" y2="59.44" stroke="#2a2a2a" stroke-width="0.8" />
<text x="291.30" y="61.44" font-size="5.6" fill="#1a1a1a" text-anchor="end" stroke="#1a1a1a" stroke-width="0.12" >20</text>
<line x1="293.60" y1="66.20" x2="297.20" y2="66.20" stroke="#2a2a2a" stroke-width="0.8" />
<text x="291.30" y="68.20" font-size="5.6" fill="#1a1a1a" text-anchor="end" stroke="#1a1a1a" stroke-width="0.12" >0</text>
<line x1="314.30" y1="66.20" x2="314.30" y2="69.00" stroke="#2a2a2a" stroke-width="0.8" />
<text x="317.90" y="75.10" font-size="6.6" fill="#1a1a1a" text-anchor="end" textLength="18.0" lengthAdjust="spacingAndGlyphs" transform="rotate(-45 317.90 75.10)" stroke="#1a1a1a" stroke-width="0.12" >DMSO</text>
<line x1="340.10" y1="66.20" x2="340.10" y2="69.00" stroke="#2a2a2a" stroke-width="0.8" />
<text x="343.70" y="75.10" font-size="6.6" fill="#1a1a1a" text-anchor="end" textLength="19.34" lengthAdjust="spacingAndGlyphs" transform="rotate(-45 343.70 75.10)" stroke="#1a1a1a" stroke-width="0.12" >DNA20</text>
<line x1="365.90" y1="66.20" x2="365.90" y2="69.00" stroke="#2a2a2a" stroke-width="0.8" />
<text x="369.50" y="75.10" font-size="6.6" fill="#1a1a1a" text-anchor="end" textLength="22.68" lengthAdjust="spacingAndGlyphs" transform="rotate(-45 369.50 75.10)" stroke="#1a1a1a" stroke-width="0.12" >DNA200</text>
<text x="468.15" y="24.80" font-size="5.6" fill="#2a2a2a" text-anchor="middle" textLength="33.69999999999999" lengthAdjust="spacingAndGlyphs" >Primary AML</text>
<text x="402.90" y="47.20" font-size="8.6" fill="#1a1a1a" text-anchor="middle" textLength="37.5" lengthAdjust="spacingAndGlyphs" transform="rotate(-90 402.90 47.20)" ><tspan font-style="italic">MFI</tspan> CD112</text>
<rect x="434.60" y="36.67" width="16.40" height="29.33" fill="#a23447" stroke="#93233a" stroke-width="0.8"/>
<rect x="460.40" y="42.19" width="16.40" height="23.81" fill="#465f87" stroke="#364f78" stroke-width="0.8"/>
<rect x="486.20" y="41.71" width="16.40" height="24.29" fill="#72aa57" stroke="#63a048" stroke-width="0.8"/>
<line x1="425.80" y1="29.10" x2="425.80" y2="66.50" stroke="#2a2a2a" stroke-width="1" />
<line x1="425.80" y1="66.00" x2="512.00" y2="66.00" stroke="#2a2a2a" stroke-width="1" />
<line x1="422.20" y1="31.50" x2="425.80" y2="31.50" stroke="#2a2a2a" stroke-width="0.8" />
<text x="419.90" y="33.50" font-size="5.6" fill="#1a1a1a" text-anchor="end" stroke="#1a1a1a" stroke-width="0.12" >500</text>
<line x1="422.20" y1="38.40" x2="425.80" y2="38.40" stroke="#2a2a2a" stroke-width="0.8" />
<text x="419.90" y="40.40" font-size="5.6" fill="#1a1a1a" text-anchor="end" stroke="#1a1a1a" stroke-width="0.12" >400</text>
<line x1="422.20" y1="45.30" x2="425.80" y2="45.30" stroke="#2a2a2a" stroke-width="0.8" />
<text x="419.90" y="47.30" font-size="5.6" fill="#1a1a1a" text-anchor="end" stroke="#1a1a1a" stroke-width="0.12" >300</text>
<line x1="422.20" y1="52.20" x2="425.80" y2="52.20" stroke="#2a2a2a" stroke-width="0.8" />
<text x="419.90" y="54.20" font-size="5.6" fill="#1a1a1a" text-anchor="end" stroke="#1a1a1a" stroke-width="0.12" >200</text>
<line x1="422.20" y1="59.10" x2="425.80" y2="59.10" stroke="#2a2a2a" stroke-width="0.8" />
<text x="419.90" y="61.10" font-size="5.6" fill="#1a1a1a" text-anchor="end" stroke="#1a1a1a" stroke-width="0.12" >100</text>
<line x1="422.20" y1="66.00" x2="425.80" y2="66.00" stroke="#2a2a2a" stroke-width="0.8" />
<text x="419.90" y="68.00" font-size="5.6" fill="#1a1a1a" text-anchor="end" stroke="#1a1a1a" stroke-width="0.12" >0</text>
<line x1="442.80" y1="66.00" x2="442.80" y2="68.80" stroke="#2a2a2a" stroke-width="0.8" />
<text x="446.40" y="74.90" font-size="6.6" fill="#1a1a1a" text-anchor="end" textLength="18.0" lengthAdjust="spacingAndGlyphs" transform="rotate(-45 446.40 74.90)" stroke="#1a1a1a" stroke-width="0.12" >DMSO</text>
<line x1="468.60" y1="66.00" x2="468.60" y2="68.80" stroke="#2a2a2a" stroke-width="0.8" />
<text x="472.20" y="74.90" font-size="6.6" fill="#1a1a1a" text-anchor="end" textLength="19.34" lengthAdjust="spacingAndGlyphs" transform="rotate(-45 472.20 74.90)" stroke="#1a1a1a" stroke-width="0.12" >DNA20</text>
<line x1="494.40" y1="66.00" x2="494.40" y2="68.80" stroke="#2a2a2a" stroke-width="0.8" />
<text x="498.00" y="74.90" font-size="6.6" fill="#1a1a1a" text-anchor="end" textLength="22.68" lengthAdjust="spacingAndGlyphs" transform="rotate(-45 498.00 74.90)" stroke="#1a1a1a" stroke-width="0.12" >DNA200</text>
<text x="339.80" y="109.40" font-size="5.6" fill="#2a2a2a" text-anchor="middle" textLength="33.19999999999999" lengthAdjust="spacingAndGlyphs" >Primary AML</text>
<text x="278.30" y="133.10" font-size="8.6" fill="#1a1a1a" text-anchor="middle" textLength="51.2" lengthAdjust="spacingAndGlyphs" transform="rotate(-90 278.30 133.10)" >% HLA-E+ cells</text>
<rect x="306.10" y="124.59" width="16.40" height="26.51" fill="#a23447" stroke="#93233a" stroke-width="0.8"/>
<rect x="331.90" y="150.59" width="16.40" height="0.51" fill="#465f87" stroke="#364f78" stroke-width="0.8"/>
<rect x="357.70" y="150.89" width="16.40" height="0.21" fill="#72aa57" stroke="#63a048" stroke-width="0.8"/>
<line x1="297.10" y1="114.20" x2="297.10" y2="151.60" stroke="#2a2a2a" stroke-width="1" />
<line x1="297.10" y1="151.10" x2="382.70" y2="151.10" stroke="#2a2a2a" stroke-width="1" />
<line x1="293.50" y1="116.90" x2="297.10" y2="116.90" stroke="#2a2a2a" stroke-width="0.8" />
<text x="291.20" y="118.90" font-size="5.6" fill="#1a1a1a" text-anchor="end" stroke="#1a1a1a" stroke-width="0.12" >80</text>
<line x1="293.50" y1="125.45" x2="297.10" y2="125.45" stroke="#2a2a2a" stroke-width="0.8" />
<text x="291.20" y="127.45" font-size="5.6" fill="#1a1a1a" text-anchor="end" stroke="#1a1a1a" stroke-width="0.12" >60</text>
<line x1="293.50" y1="134.00" x2="297.10" y2="134.00" stroke="#2a2a2a" stroke-width="0.8" />
<text x="291.20" y="136.00" font-size="5.6" fill="#1a1a1a" text-anchor="end" stroke="#1a1a1a" stroke-width="0.12" >40</text>
<line x1="293.50" y1="142.55" x2="297.10" y2="142.55" stroke="#2a2a2a" stroke-width="0.8" />
<text x="291.20" y="144.55" font-size="5.6" fill="#1a1a1a" text-anchor="end" stroke="#1a1a1a" stroke-width="0.12" >20</text>
<line x1="293.50" y1="151.10" x2="297.10" y2="151.10" stroke="#2a2a2a" stroke-width="0.8" />
<text x="291.20" y="153.10" font-size="5.6" fill="#1a1a1a" text-anchor="end" stroke="#1a1a1a" stroke-width="0.12" >0</text>
<line x1="314.30" y1="151.10" x2="314.30" y2="153.90" stroke="#2a2a2a" stroke-width="0.8" />
<text x="317.90" y="160.00" font-size="6.6" fill="#1a1a1a" text-anchor="end" textLength="18.0" lengthAdjust="spacingAndGlyphs" transform="rotate(-45 317.90 160.00)" stroke="#1a1a1a" stroke-width="0.12" >DMSO</text>
<line x1="340.10" y1="151.10" x2="340.10" y2="153.90" stroke="#2a2a2a" stroke-width="0.8" />
<text x="343.70" y="160.00" font-size="6.6" fill="#1a1a1a" text-anchor="end" textLength="19.34" lengthAdjust="spacingAndGlyphs" transform="rotate(-45 343.70 160.00)" stroke="#1a1a1a" stroke-width="0.12" >DNA20</text>
<line x1="365.90" y1="151.10" x2="365.90" y2="153.90" stroke="#2a2a2a" stroke-width="0.8" />
<text x="369.50" y="160.00" font-size="6.6" fill="#1a1a1a" text-anchor="end" textLength="22.68" lengthAdjust="spacingAndGlyphs" transform="rotate(-45 369.50 160.00)" stroke="#1a1a1a" stroke-width="0.12" >DNA200</text>
<text x="468.45" y="109.40" font-size="5.6" fill="#2a2a2a" text-anchor="middle" textLength="33.10000000000002" lengthAdjust="spacingAndGlyphs" >Primary AML</text>
<text x="403.30" y="132.40" font-size="8.6" fill="#1a1a1a" text-anchor="middle" textLength="36.4" lengthAdjust="spacingAndGlyphs" transform="rotate(-90 403.30 132.40)" ><tspan font-style="italic">MFI</tspan> HLA-E</text>
<rect x="434.60" y="120.11" width="16.40" height="30.99" fill="#a23447" stroke="#93233a" stroke-width="0.8"/>
<rect x="460.40" y="148.25" width="16.40" height="2.85" fill="#465f87" stroke="#364f78" stroke-width="0.8"/>
<rect x="486.20" y="148.57" width="16.40" height="2.53" fill="#72aa57" stroke="#63a048" stroke-width="0.8"/>
<line x1="425.60" y1="113.70" x2="425.60" y2="151.60" stroke="#2a2a2a" stroke-width="1" />
<line x1="425.60" y1="151.10" x2="511.10" y2="151.10" stroke="#2a2a2a" stroke-width="1" />
<line x1="422.00" y1="116.40" x2="425.60" y2="116.40" stroke="#2a2a2a" stroke-width="0.8" />
<text x="419.70" y="118.40" font-size="5.6" fill="#1a1a1a" text-anchor="end" stroke="#1a1a1a" stroke-width="0.12" >100</text>
<line x1="422.00" y1="123.34" x2="425.60" y2="123.34" stroke="#2a2a2a" stroke-width="0.8" />
<text x="419.70" y="125.34" font-size="5.6" fill="#1a1a1a" text-anchor="end" stroke="#1a1a1a" stroke-width="0.12" >80</text>
<line x1="422.00" y1="130.28" x2="425.60" y2="130.28" stroke="#2a2a2a" stroke-width="0.8" />
<text x="419.70" y="132.28" font-size="5.6" fill="#1a1a1a" text-anchor="end" stroke="#1a1a1a" stroke-width="0.12" >60</text>
<line x1="422.00" y1="137.22" x2="425.60" y2="137.22" stroke="#2a2a2a" stroke-width="0.8" />
<text x="419.70" y="139.22" font-size="5.6" fill="#1a1a1a" text-anchor="end" stroke="#1a1a1a" stroke-width="0.12" >40</text>
<line x1="422.00" y1="144.16" x2="425.60" y2="144.16" stroke="#2a2a2a" stroke-width="0.8" />
<text x="419.70" y="146.16" font-size="5.6" fill="#1a1a1a" text-anchor="end" stroke="#1a1a1a" stroke-width="0.12" >20</text>
<line x1="422.00" y1="151.10" x2="425.60" y2="151.10" stroke="#2a2a2a" stroke-width="0.8" />
<text x="419.70" y="153.10" font-size="5.6" fill="#1a1a1a" text-anchor="end" stroke="#1a1a1a" stroke-width="0.12" >0</text>
<line x1="442.80" y1="151.10" x2="442.80" y2="153.90" stroke="#2a2a2a" stroke-width="0.8" />
<text x="446.40" y="160.00" font-size="6.6" fill="#1a1a1a" text-anchor="end" textLength="18.0" lengthAdjust="spacingAndGlyphs" transform="rotate(-45 446.40 160.00)" stroke="#1a1a1a" stroke-width="0.12" >DMSO</text>
<line x1="468.60" y1="151.10" x2="468.60" y2="153.90" stroke="#2a2a2a" stroke-width="0.8" />
<text x="472.20" y="160.00" font-size="6.6" fill="#1a1a1a" text-anchor="end" textLength="19.34" lengthAdjust="spacingAndGlyphs" transform="rotate(-45 472.20 160.00)" stroke="#1a1a1a" stroke-width="0.12" >DNA20</text>
<line x1="494.40" y1="151.10" x2="494.40" y2="153.90" stroke="#2a2a2a" stroke-width="0.8" />
<text x="498.00" y="160.00" font-size="6.6" fill="#1a1a1a" text-anchor="end" textLength="22.68" lengthAdjust="spacingAndGlyphs" transform="rotate(-45 498.00 160.00)" stroke="#1a1a1a" stroke-width="0.12" >DNA200</text>
<text x="339.80" y="200.70" font-size="5.6" fill="#2a2a2a" text-anchor="middle" textLength="33.19999999999999" lengthAdjust="spacingAndGlyphs" >Primary AML</text>
<text x="278.30" y="226.40" font-size="8.6" fill="#1a1a1a" text-anchor="middle" textLength="52.5" lengthAdjust="spacingAndGlyphs" transform="rotate(-90 278.30 226.40)" >% CD112+ cells</text>
<rect x="306.10" y="211.71" width="16.40" height="37.89" fill="#a23447" stroke="#93233a" stroke-width="0.8"/>
<rect x="331.90" y="243.71" width="16.40" height="5.89" fill="#465f87" stroke="#364f78" stroke-width="0.8"/>
<rect x="357.70" y="245.71" width="16.40" height="3.89" fill="#72aa57" stroke="#63a048" stroke-width="0.8"/>
<line x1="297.10" y1="204.80" x2="297.10" y2="250.10" stroke="#2a2a2a" stroke-width="1" />
<line x1="297.10" y1="249.60" x2="383.30" y2="249.60" stroke="#2a2a2a" stroke-width="1" />
<line x1="293.50" y1="207.50" x2="297.10" y2="207.50" stroke="#2a2a2a" stroke-width="0.8" />
<text x="291.20" y="209.50" font-size="5.6" fill="#1a1a1a" text-anchor="end" stroke="#1a1a1a" stroke-width="0.12" >80</text>
<line x1="293.50" y1="218.03" x2="297.10" y2="218.03" stroke="#2a2a2a" stroke-width="0.8" />
<text x="291.20" y="220.03" font-size="5.6" fill="#1a1a1a" text-anchor="end" stroke="#1a1a1a" stroke-width="0.12" >60</text>
<line x1="293.50" y1="228.55" x2="297.10" y2="228.55" stroke="#2a2a2a" stroke-width="0.8" />
<text x="291.20" y="230.55" font-size="5.6" fill="#1a1a1a" text-anchor="end" stroke="#1a1a1a" stroke-width="0.12" >40</text>
<line x1="293.50" y1="239.07" x2="297.10" y2="239.07" stroke="#2a2a2a" stroke-width="0.8" />
<text x="291.20" y="241.07" font-size="5.6" fill="#1a1a1a" text-anchor="end" stroke="#1a1a1a" stroke-width="0.12" >20</text>
<line x1="293.50" y1="249.60" x2="297.10" y2="249.60" stroke="#2a2a2a" stroke-width="0.8" />
<text x="291.20" y="251.60" font-size="5.6" fill="#1a1a1a" text-anchor="end" stroke="#1a1a1a" stroke-width="0.12" >0</text>
<line x1="314.30" y1="249.60" x2="314.30" y2="252.40" stroke="#2a2a2a" stroke-width="0.8" />
<text x="317.90" y="258.50" font-size="6.6" fill="#1a1a1a" text-anchor="end" textLength="18.0" lengthAdjust="spacingAndGlyphs" transform="rotate(-45 317.90 258.50)" stroke="#1a1a1a" stroke-width="0.12" >DMSO</text>
<line x1="340.10" y1="249.60" x2="340.10" y2="252.40" stroke="#2a2a2a" stroke-width="0.8" />
<text x="343.70" y="258.50" font-size="6.6" fill="#1a1a1a" text-anchor="end" textLength="19.34" lengthAdjust="spacingAndGlyphs" transform="rotate(-45 343.70 258.50)" stroke="#1a1a1a" stroke-width="0.12" >DNA20</text>
<line x1="365.90" y1="249.60" x2="365.90" y2="252.40" stroke="#2a2a2a" stroke-width="0.8" />
<text x="369.50" y="258.50" font-size="6.6" fill="#1a1a1a" text-anchor="end" textLength="22.68" lengthAdjust="spacingAndGlyphs" transform="rotate(-45 369.50 258.50)" stroke="#1a1a1a" stroke-width="0.12" >DNA200</text>
<text x="468.85" y="200.70" font-size="5.6" fill="#2a2a2a" text-anchor="middle" textLength="33.30000000000001" lengthAdjust="spacingAndGlyphs" >Primary AML</text>
<text x="400.90" y="227.80" font-size="8.6" fill="#1a1a1a" text-anchor="middle" textLength="39.0" lengthAdjust="spacingAndGlyphs" transform="rotate(-90 400.90 227.80)" ><tspan font-style="italic">MFI</tspan> CD112</text>
<rect x="434.70" y="223.39" width="16.40" height="27.11" fill="#a23447" stroke="#93233a" stroke-width="0.8"/>
<rect x="460.90" y="244.17" width="16.40" height="6.33" fill="#465f87" stroke="#364f78" stroke-width="0.8"/>
<rect x="487.10" y="244.65" width="16.40" height="5.85" fill="#72aa57" stroke="#63a048" stroke-width="0.8"/>
<line x1="425.70" y1="205.60" x2="425.70" y2="251.00" stroke="#2a2a2a" stroke-width="1" />
<line x1="425.70" y1="250.50" x2="512.70" y2="250.50" stroke="#2a2a2a" stroke-width="1" />
<line x1="422.10" y1="207.70" x2="425.70" y2="207.70" stroke="#2a2a2a" stroke-width="0.8" />
<text x="419.80" y="209.70" font-size="5.6" fill="#1a1a1a" text-anchor="end" stroke="#1a1a1a" stroke-width="0.12" >1500</text>
<line x1="422.10" y1="221.97" x2="425.70" y2="221.97" stroke="#2a2a2a" stroke-width="0.8" />
<text x="419.80" y="223.97" font-size="5.6" fill="#1a1a1a" text-anchor="end" stroke="#1a1a1a" stroke-width="0.12" >1000</text>
<line x1="422.10" y1="236.23" x2="425.70" y2="236.23" stroke="#2a2a2a" stroke-width="0.8" />
<text x="419.80" y="238.23" font-size="5.6" fill="#1a1a1a" text-anchor="end" stroke="#1a1a1a" stroke-width="0.12" >500</text>
<line x1="422.10" y1="250.50" x2="425.70" y2="250.50" stroke="#2a2a2a" stroke-width="0.8" />
<text x="419.80" y="252.50" font-size="5.6" fill="#1a1a1a" text-anchor="end" stroke="#1a1a1a" stroke-width="0.12" >0</text>
<line x1="442.90" y1="250.50" x2="442.90" y2="253.30" stroke="#2a2a2a" stroke-width="0.8" />
<text x="446.50" y="259.40" font-size="6.6" fill="#1a1a1a" text-anchor="end" textLength="18.0" lengthAdjust="spacingAndGlyphs" transform="rotate(-45 446.50 259.40)" stroke="#1a1a1a" stroke-width="0.12" >DMSO</text>
<line x1="469.10" y1="250.50" x2="469.10" y2="253.30" stroke="#2a2a2a" stroke-width="0.8" />
<text x="472.70" y="259.40" font-size="6.6" fill="#1a1a1a" text-anchor="end" textLength="19.34" lengthAdjust="spacingAndGlyphs" transform="rotate(-45 472.70 259.40)" stroke="#1a1a1a" stroke-width="0.12" >DNA20</text>
<line x1="495.30" y1="250.50" x2="495.30" y2="253.30" stroke="#2a2a2a" stroke-width="0.8" />
<text x="498.90" y="259.40" font-size="6.6" fill="#1a1a1a" text-anchor="end" textLength="22.68" lengthAdjust="spacingAndGlyphs" transform="rotate(-45 498.90 259.40)" stroke="#1a1a1a" stroke-width="0.12" >DNA200</text>
<text x="340.85" y="292.40" font-size="5.6" fill="#2a2a2a" text-anchor="middle" textLength="33.69999999999999" lengthAdjust="spacingAndGlyphs" >Primary AML</text>
<text x="278.30" y="319.80" font-size="8.6" fill="#1a1a1a" text-anchor="middle" textLength="52.2" lengthAdjust="spacingAndGlyphs" transform="rotate(-90 278.30 319.80)" >% HLA-E+ cells</text>
<rect x="306.20" y="307.20" width="16.40" height="35.00" fill="#a23447" stroke="#93233a" stroke-width="0.8"/>
<rect x="332.50" y="338.35" width="16.40" height="3.85" fill="#465f87" stroke="#364f78" stroke-width="0.8"/>
<rect x="358.80" y="337.72" width="16.40" height="4.48" fill="#72aa57" stroke="#63a048" stroke-width="0.8"/>
<line x1="297.10" y1="296.90" x2="297.10" y2="342.70" stroke="#2a2a2a" stroke-width="1" />
<line x1="297.10" y1="342.20" x2="384.10" y2="342.20" stroke="#2a2a2a" stroke-width="1" />
<line x1="293.50" y1="300.20" x2="297.10" y2="300.20" stroke="#2a2a2a" stroke-width="0.8" />
<text x="291.20" y="302.20" font-size="5.6" fill="#1a1a1a" text-anchor="end" stroke="#1a1a1a" stroke-width="0.12" >60</text>
<line x1="293.50" y1="314.20" x2="297.10" y2="314.20" stroke="#2a2a2a" stroke-width="0.8" />
<text x="291.20" y="316.20" font-size="5.6" fill="#1a1a1a" text-anchor="end" stroke="#1a1a1a" stroke-width="0.12" >40</text>
<line x1="293.50" y1="328.20" x2="297.10" y2="328.20" stroke="#2a2a2a" stroke-width="0.8" />
<text x="291.20" y="330.20" font-size="5.6" fill="#1a1a1a" text-anchor="end" stroke="#1a1a1a" stroke-width="0.12" >20</text>
<line x1="293.50" y1="342.20" x2="297.10" y2="342.20" stroke="#2a2a2a" stroke-width="0.8" />
<text x="291.20" y="344.20" font-size="5.6" fill="#1a1a1a" text-anchor="end" stroke="#1a1a1a" stroke-width="0.12" >0</text>
<line x1="314.40" y1="342.20" x2="314.40" y2="345.00" stroke="#2a2a2a" stroke-width="0.8" />
<text x="318.00" y="351.10" font-size="6.6" fill="#1a1a1a" text-anchor="end" textLength="18.0" lengthAdjust="spacingAndGlyphs" transform="rotate(-45 318.00 351.10)" stroke="#1a1a1a" stroke-width="0.12" >DMSO</text>
<line x1="340.70" y1="342.20" x2="340.70" y2="345.00" stroke="#2a2a2a" stroke-width="0.8" />
<text x="344.30" y="351.10" font-size="6.6" fill="#1a1a1a" text-anchor="end" textLength="19.34" lengthAdjust="spacingAndGlyphs" transform="rotate(-45 344.30 351.10)" stroke="#1a1a1a" stroke-width="0.12" >DNA20</text>
<line x1="367.00" y1="342.20" x2="367.00" y2="345.00" stroke="#2a2a2a" stroke-width="0.8" />
<text x="370.60" y="351.10" font-size="6.6" fill="#1a1a1a" text-anchor="end" textLength="22.68" lengthAdjust="spacingAndGlyphs" transform="rotate(-45 370.60 351.10)" stroke="#1a1a1a" stroke-width="0.12" >DNA200</text>
<text x="468.15" y="292.40" font-size="5.6" fill="#2a2a2a" text-anchor="middle" textLength="33.69999999999999" lengthAdjust="spacingAndGlyphs" >Primary AML</text>
<text x="402.90" y="321.20" font-size="8.6" fill="#1a1a1a" text-anchor="middle" textLength="35.0" lengthAdjust="spacingAndGlyphs" transform="rotate(-90 402.90 321.20)" ><tspan font-style="italic">MFI</tspan> HLA-E</text>
<rect x="434.70" y="313.62" width="16.40" height="29.58" fill="#a23447" stroke="#93233a" stroke-width="0.8"/>
<rect x="460.10" y="332.70" width="16.40" height="10.50" fill="#465f87" stroke="#364f78" stroke-width="0.8"/>
<rect x="485.50" y="328.88" width="16.40" height="14.31" fill="#72aa57" stroke="#63a048" stroke-width="0.8"/>
<line x1="425.60" y1="299.60" x2="425.60" y2="343.70" stroke="#2a2a2a" stroke-width="1" />
<line x1="425.60" y1="343.20" x2="511.10" y2="343.20" stroke="#2a2a2a" stroke-width="1" />
<line x1="422.00" y1="302.30" x2="425.60" y2="302.30" stroke="#2a2a2a" stroke-width="0.8" />
<text x="419.70" y="304.30" font-size="5.6" fill="#1a1a1a" text-anchor="end" stroke="#1a1a1a" stroke-width="0.12" >150</text>
<line x1="422.00" y1="315.93" x2="425.60" y2="315.93" stroke="#2a2a2a" stroke-width="0.8" />
<text x="419.70" y="317.93" font-size="5.6" fill="#1a1a1a" text-anchor="end" stroke="#1a1a1a" stroke-width="0.12" >100</text>
<line x1="422.00" y1="329.57" x2="425.60" y2="329.57" stroke="#2a2a2a" stroke-width="0.8" />
<text x="419.70" y="331.57" font-size="5.6" fill="#1a1a1a" text-anchor="end" stroke="#1a1a1a" stroke-width="0.12" >50</text>
<line x1="422.00" y1="343.20" x2="425.60" y2="343.20" stroke="#2a2a2a" stroke-width="0.8" />
<text x="419.70" y="345.20" font-size="5.6" fill="#1a1a1a" text-anchor="end" stroke="#1a1a1a" stroke-width="0.12" >0</text>
<line x1="442.90" y1="343.20" x2="442.90" y2="346.00" stroke="#2a2a2a" stroke-width="0.8" />
<text x="446.50" y="352.10" font-size="6.6" fill="#1a1a1a" text-anchor="end" textLength="18.0" lengthAdjust="spacingAndGlyphs" transform="rotate(-45 446.50 352.10)" stroke="#1a1a1a" stroke-width="0.12" >DMSO</text>
<line x1="468.30" y1="343.20" x2="468.30" y2="346.00" stroke="#2a2a2a" stroke-width="0.8" />
<text x="471.90" y="352.10" font-size="6.6" fill="#1a1a1a" text-anchor="end" textLength="19.34" lengthAdjust="spacingAndGlyphs" transform="rotate(-45 471.90 352.10)" stroke="#1a1a1a" stroke-width="0.12" >DNA20</text>
<line x1="493.70" y1="343.20" x2="493.70" y2="346.00" stroke="#2a2a2a" stroke-width="0.8" />
<text x="497.30" y="352.10" font-size="6.6" fill="#1a1a1a" text-anchor="end" textLength="22.68" lengthAdjust="spacingAndGlyphs" transform="rotate(-45 497.30 352.10)" stroke="#1a1a1a" stroke-width="0.12" >DNA200</text>
<text x="128.40" y="355.80" font-size="8.6" fill="#1a1a1a" text-anchor="middle" textLength="69.4" lengthAdjust="spacingAndGlyphs" >CD56bright NK cells</text>
<text x="38.70" y="366.30" font-size="6.0" fill="#b8844e" text-anchor="start" textLength="24.0" lengthAdjust="spacingAndGlyphs" stroke="#b8844e" stroke-width="0.12" >Δ1=4.8%</text>
<text x="38.70" y="373.70" font-size="6.0" fill="#b8844e" text-anchor="start" textLength="25.1" lengthAdjust="spacingAndGlyphs" stroke="#b8844e" stroke-width="0.12" >Δ2= 0.9%</text>
<text x="14.30" y="413.90" font-size="8.6" fill="#1a1a1a" text-anchor="middle" textLength="69.5" lengthAdjust="spacingAndGlyphs" transform="rotate(-90 14.30 413.90)" >% CD107a+ NK cells</text>
<line x1="46.60" y1="420.10" x2="46.60" y2="414.35" stroke="#2a2a2a" stroke-width="1" />
<line x1="43.60" y1="414.35" x2="49.60" y2="414.35" stroke="#2a2a2a" stroke-width="1" />
<rect x="39.90" y="420.10" width="13.40" height="29.90" fill="#a23447" stroke="#93233a" stroke-width="0.8"/>
<line x1="67.80" y1="409.29" x2="67.80" y2="401.24" stroke="#2a2a2a" stroke-width="1" />
<line x1="64.80" y1="401.24" x2="70.80" y2="401.24" stroke="#2a2a2a" stroke-width="1" />
<rect x="61.10" y="409.29" width="13.40" height="40.71" fill="#465f87" stroke="#364f78" stroke-width="0.8"/>
<line x1="89.00" y1="402.85" x2="89.00" y2="396.18" stroke="#2a2a2a" stroke-width="1" />
<line x1="86.00" y1="396.18" x2="92.00" y2="396.18" stroke="#2a2a2a" stroke-width="1" />
<rect x="82.30" y="402.85" width="13.40" height="47.15" fill="#72aa57" stroke="#63a048" stroke-width="0.8"/>
<line x1="110.20" y1="401.24" x2="110.20" y2="393.88" stroke="#2a2a2a" stroke-width="1" />
<line x1="107.20" y1="393.88" x2="113.20" y2="393.88" stroke="#2a2a2a" stroke-width="1" />
<rect x="103.50" y="401.24" width="13.40" height="48.76" fill="#6d4669" stroke="#5b3457" stroke-width="0.8"/>
<line x1="32.50" y1="380.00" x2="32.50" y2="450.50" stroke="#2a2a2a" stroke-width="1" />
<line x1="32.50" y1="450.00" x2="124.30" y2="450.00" stroke="#2a2a2a" stroke-width="1" />
<line x1="28.90" y1="381.00" x2="32.50" y2="381.00" stroke="#2a2a2a" stroke-width="0.8" />
<text x="26.60" y="383.00" font-size="5.7" fill="#1a1a1a" text-anchor="end" stroke="#1a1a1a" stroke-width="0.12" >30</text>
<line x1="28.90" y1="404.00" x2="32.50" y2="404.00" stroke="#2a2a2a" stroke-width="0.8" />
<text x="26.60" y="406.00" font-size="5.7" fill="#1a1a1a" text-anchor="end" stroke="#1a1a1a" stroke-width="0.12" >20</text>
<line x1="28.90" y1="427.00" x2="32.50" y2="427.00" stroke="#2a2a2a" stroke-width="0.8" />
<text x="26.60" y="429.00" font-size="5.7" fill="#1a1a1a" text-anchor="end" stroke="#1a1a1a" stroke-width="0.12" >10</text>
<line x1="28.90" y1="450.00" x2="32.50" y2="450.00" stroke="#2a2a2a" stroke-width="0.8" />
<text x="26.60" y="452.00" font-size="5.7" fill="#1a1a1a" text-anchor="end" stroke="#1a1a1a" stroke-width="0.12" >0</text>
<line x1="46.60" y1="450.00" x2="46.60" y2="453.00" stroke="#2a2a2a" stroke-width="0.8" />
<text x="49.80" y="459.40" font-size="6.32" fill="#1a1a1a" text-anchor="end" textLength="29.8" lengthAdjust="spacingAndGlyphs" transform="rotate(-45 49.80 459.40)" stroke="#1a1a1a" stroke-width="0.12" >DMSO+IGG</text>
<line x1="67.80" y1="450.00" x2="67.80" y2="453.00" stroke="#2a2a2a" stroke-width="0.8" />
<text x="71.00" y="459.40" font-size="6.32" fill="#1a1a1a" text-anchor="end" textLength="38.36" lengthAdjust="spacingAndGlyphs" transform="rotate(-45 71.00 459.40)" stroke="#1a1a1a" stroke-width="0.12" >DMSO+NKG2A</text>
<line x1="89.00" y1="450.00" x2="89.00" y2="453.00" stroke="#2a2a2a" stroke-width="0.8" />
<text x="92.20" y="459.40" font-size="6.32" fill="#1a1a1a" text-anchor="end" textLength="44.16" lengthAdjust="spacingAndGlyphs" transform="rotate(-45 92.20 459.40)" stroke="#1a1a1a" stroke-width="0.12" >DINACICLIB+IGG</text>
<line x1="110.20" y1="450.00" x2="110.20" y2="453.00" stroke="#2a2a2a" stroke-width="0.8" />
<text x="113.40" y="459.40" font-size="6.32" fill="#1a1a1a" text-anchor="end" textLength="52.73" lengthAdjust="spacingAndGlyphs" transform="rotate(-45 113.40 459.40)" stroke="#1a1a1a" stroke-width="0.12" >DINACICLIB+NKG2A</text>
<line x1="52.00" y1="441.60" x2="62.20" y2="441.60" stroke="#d3b48a" stroke-width="1.4" />
<path d="M48.00,441.6 l5.6,-2.2 l0,4.4z" fill="#c98a3a"/>
<path d="M66.20,441.6 l-5.6,-2.2 l0,4.4z" fill="#c98a3a"/>
<text x="57.10" y="438.40" font-size="4.3" fill="#c9a57a" text-anchor="middle" stroke="#c9a57a" stroke-width="0.12" >Δ1</text>
<line x1="94.50" y1="433.30" x2="104.30" y2="433.30" stroke="#d3b48a" stroke-width="1.4" />
<path d="M90.50,433.3 l5.6,-2.2 l0,4.4z" fill="#c98a3a"/>
<path d="M108.30,433.3 l-5.6,-2.2 l0,4.4z" fill="#c98a3a"/>
<text x="99.40" y="430.10" font-size="4.3" fill="#c9a57a" text-anchor="middle" stroke="#c9a57a" stroke-width="0.12" >Δ2</text>
<text x="164.40" y="366.30" font-size="6.0" fill="#b8844e" text-anchor="start" textLength="26.0" lengthAdjust="spacingAndGlyphs" stroke="#b8844e" stroke-width="0.12" >Δ1= 6.8%</text>
<text x="164.40" y="373.70" font-size="6.0" fill="#b8844e" text-anchor="start" textLength="27.6" lengthAdjust="spacingAndGlyphs" stroke="#b8844e" stroke-width="0.12" >Δ2= -0.3%</text>
<text x="140.10" y="414.50" font-size="8.6" fill="#1a1a1a" text-anchor="middle" textLength="62.0" lengthAdjust="spacingAndGlyphs" transform="rotate(-90 140.10 414.50)" >% IFN-g+ NK cells</text>
<line x1="173.40" y1="426.11" x2="173.40" y2="421.74" stroke="#2a2a2a" stroke-width="1" />
<line x1="170.40" y1="421.74" x2="176.40" y2="421.74" stroke="#2a2a2a" stroke-width="1" />
<rect x="166.70" y="426.11" width="13.40" height="23.69" fill="#a23447" stroke="#93233a" stroke-width="0.8"/>
<line x1="194.60" y1="418.29" x2="194.60" y2="413.69" stroke="#2a2a2a" stroke-width="1" />
<line x1="191.60" y1="413.69" x2="197.60" y2="413.69" stroke="#2a2a2a" stroke-width="1" />
<rect x="187.90" y="418.29" width="13.40" height="31.51" fill="#465f87" stroke="#364f78" stroke-width="0.8"/>
<line x1="215.80" y1="417.72" x2="215.80" y2="413.58" stroke="#2a2a2a" stroke-width="1" />
<line x1="212.80" y1="413.58" x2="218.80" y2="413.58" stroke="#2a2a2a" stroke-width="1" />
<rect x="209.10" y="417.72" width="13.40" height="32.08" fill="#72aa57" stroke="#63a048" stroke-width="0.8"/>
<line x1="237.00" y1="418.18" x2="237.00" y2="413.58" stroke="#2a2a2a" stroke-width="1" />
<line x1="234.00" y1="413.58" x2="240.00" y2="413.58" stroke="#2a2a2a" stroke-width="1" />
<rect x="230.30" y="418.18" width="13.40" height="31.62" fill="#6d4669" stroke="#5b3457" stroke-width="0.8"/>
<line x1="159.00" y1="379.00" x2="159.00" y2="450.30" stroke="#2a2a2a" stroke-width="1" />
<line x1="159.00" y1="449.80" x2="250.00" y2="449.80" stroke="#2a2a2a" stroke-width="1" />
<line x1="155.40" y1="380.80" x2="159.00" y2="380.80" stroke="#2a2a2a" stroke-width="0.8" />
<text x="153.10" y="382.80" font-size="5.7" fill="#1a1a1a" text-anchor="end" stroke="#1a1a1a" stroke-width="0.12" >60</text>
<line x1="155.40" y1="403.80" x2="159.00" y2="403.80" stroke="#2a2a2a" stroke-width="0.8" />
<text x="153.10" y="405.80" font-size="5.7" fill="#1a1a1a" text-anchor="end" stroke="#1a1a1a" stroke-width="0.12" >40</text>
<line x1="155.40" y1="426.80" x2="159.00" y2="426.80" stroke="#2a2a2a" stroke-width="0.8" />
<text x="153.10" y="428.80" font-size="5.7" fill="#1a1a1a" text-anchor="end" stroke="#1a1a1a" stroke-width="0.12" >20</text>
<line x1="155.40" y1="449.80" x2="159.00" y2="449.80" stroke="#2a2a2a" stroke-width="0.8" />
<text x="153.10" y="451.80" font-size="5.7" fill="#1a1a1a" text-anchor="end" stroke="#1a1a1a" stroke-width="0.12" >0</text>
<line x1="173.40" y1="449.80" x2="173.40" y2="452.80" stroke="#2a2a2a" stroke-width="0.8" />
<text x="176.60" y="459.20" font-size="6.32" fill="#1a1a1a" text-anchor="end" textLength="29.8" lengthAdjust="spacingAndGlyphs" transform="rotate(-45 176.60 459.20)" stroke="#1a1a1a" stroke-width="0.12" >DMSO+IGG</text>
<line x1="194.60" y1="449.80" x2="194.60" y2="452.80" stroke="#2a2a2a" stroke-width="0.8" />
<text x="197.80" y="459.20" font-size="6.32" fill="#1a1a1a" text-anchor="end" textLength="38.36" lengthAdjust="spacingAndGlyphs" transform="rotate(-45 197.80 459.20)" stroke="#1a1a1a" stroke-width="0.12" >DMSO+NKG2A</text>
<line x1="215.80" y1="449.80" x2="215.80" y2="452.80" stroke="#2a2a2a" stroke-width="0.8" />
<text x="219.00" y="459.20" font-size="6.32" fill="#1a1a1a" text-anchor="end" textLength="44.16" lengthAdjust="spacingAndGlyphs" transform="rotate(-45 219.00 459.20)" stroke="#1a1a1a" stroke-width="0.12" >DINACICLIB+IGG</text>
<line x1="237.00" y1="449.80" x2="237.00" y2="452.80" stroke="#2a2a2a" stroke-width="0.8" />
<text x="240.20" y="459.20" font-size="6.32" fill="#1a1a1a" text-anchor="end" textLength="52.73" lengthAdjust="spacingAndGlyphs" transform="rotate(-45 240.20 459.20)" stroke="#1a1a1a" stroke-width="0.12" >DINACICLIB+NKG2A</text>
<line x1="179.20" y1="442.30" x2="188.20" y2="442.30" stroke="#d3b48a" stroke-width="1.4" />
<path d="M175.20,442.3 l5.6,-2.2 l0,4.4z" fill="#c98a3a"/>
<path d="M192.20,442.3 l-5.6,-2.2 l0,4.4z" fill="#c98a3a"/>
<text x="183.70" y="439.10" font-size="4.3" fill="#c9a57a" text-anchor="middle" stroke="#c9a57a" stroke-width="0.12" >Δ1</text>
<line x1="220.40" y1="433.10" x2="229.60" y2="433.10" stroke="#d3b48a" stroke-width="1.4" />
<path d="M216.40,433.1 l5.6,-2.2 l0,4.4z" fill="#c98a3a"/>
<path d="M233.60,433.1 l-5.6,-2.2 l0,4.4z" fill="#c98a3a"/>
<text x="225.00" y="429.90" font-size="4.3" fill="#c9a57a" text-anchor="middle" stroke="#c9a57a" stroke-width="0.12" >Δ2</text>
<path d="M168.2,407.8 L168.2,400.8 L193.4,400.8 L193.4,407.8" fill="none" stroke="#222" stroke-width="0.9"/>
<text x="180.80" y="401.00" font-size="5.0" fill="#1a1a1a" text-anchor="middle" >**</text>
<text x="218.30" y="397.90" font-size="4.8" fill="#1a1a1a" text-anchor="start" textLength="23" lengthAdjust="spacingAndGlyphs" >** p=0.004</text>
<rect x="1" y="1" width="518" height="1" fill="#a6a6a6"/>
<rect x="1" y="1" width="1" height="509" fill="#a6a6a6"/>
<rect x="518" y="1" width="1" height="509" fill="#a6a6a6"/>
<rect x="1" y="509" width="518" height="1" fill="#a6a6a6"/>
<rect x="0" y="0" width="520" height="1" fill="#464646"/>
<rect x="0" y="0" width="1" height="511" fill="#464646"/>
<rect x="519" y="0" width="1" height="511" fill="#464646"/>
<rect x="0" y="510" width="520" height="1" fill="#464646"/></svg>
</body></html>
